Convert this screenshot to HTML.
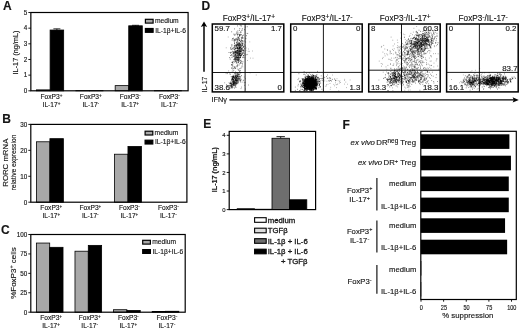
<!DOCTYPE html>
<html><head><meta charset="utf-8"><title>Figure</title>
<style>
html,body{margin:0;padding:0;background:#fff;}
svg{display:block;font-family:"Liberation Sans", sans-serif;fill:#151515;}
text{stroke:#151515;stroke-width:0.14px;}
</style></head><body>
<svg width="520" height="330" viewBox="0 0 520 330">
<rect x="0" y="0" width="520" height="330" fill="#fff"/>
<text x="2.9" y="10" font-size="12" text-anchor="start" font-weight="bold" font-style="normal">A</text>
<rect x="36.54" y="89.86" width="13.56" height="0.94" fill="#a8a8a8" stroke="#000" stroke-width="0.8"/>
<rect x="50.11" y="30.04" width="13.56" height="60.76" fill="#000" stroke="#000" stroke-width="0.8"/>
<line x1="56.89" y1="30.04" x2="56.89" y2="28.84" stroke="#000" stroke-width="0.8"/>
<line x1="53.39" y1="28.84" x2="60.39" y2="28.84" stroke="#000" stroke-width="0.8"/>
<rect x="75.86" y="90.64" width="13.56" height="0.16" fill="#a8a8a8" stroke="#000" stroke-width="0.8"/>
<rect x="89.42" y="90.64" width="13.56" height="0.16" fill="#000" stroke="#000" stroke-width="0.8"/>
<rect x="115.17" y="85.63" width="13.56" height="5.17" fill="#a8a8a8" stroke="#000" stroke-width="0.8"/>
<rect x="128.73" y="25.81" width="13.56" height="64.99" fill="#000" stroke="#000" stroke-width="0.8"/>
<line x1="135.51" y1="25.81" x2="135.51" y2="25.31" stroke="#000" stroke-width="0.8"/>
<line x1="132.01" y1="25.31" x2="139.01" y2="25.31" stroke="#000" stroke-width="0.8"/>
<rect x="154.48" y="90.64" width="13.56" height="0.16" fill="#a8a8a8" stroke="#000" stroke-width="0.8"/>
<rect x="168.04" y="90.64" width="13.56" height="0.16" fill="#000" stroke="#000" stroke-width="0.8"/>
<rect x="30.85" y="12.50" width="157.25" height="78.30" fill="none" stroke="#000" stroke-width="1.2"/>
<line x1="28.35" y1="90.80" x2="30.85" y2="90.80" stroke="#000" stroke-width="0.9"/>
<text x="27.35" y="93.1" font-size="6.3" text-anchor="end" font-weight="normal" font-style="normal">0</text>
<line x1="28.35" y1="75.14" x2="30.85" y2="75.14" stroke="#000" stroke-width="0.9"/>
<text x="27.35" y="77.44" font-size="6.3" text-anchor="end" font-weight="normal" font-style="normal">1</text>
<line x1="28.35" y1="59.48" x2="30.85" y2="59.48" stroke="#000" stroke-width="0.9"/>
<text x="27.35" y="61.779999999999994" font-size="6.3" text-anchor="end" font-weight="normal" font-style="normal">2</text>
<line x1="28.35" y1="43.82" x2="30.85" y2="43.82" stroke="#000" stroke-width="0.9"/>
<text x="27.35" y="46.12" font-size="6.3" text-anchor="end" font-weight="normal" font-style="normal">3</text>
<line x1="28.35" y1="28.16" x2="30.85" y2="28.16" stroke="#000" stroke-width="0.9"/>
<text x="27.35" y="30.459999999999997" font-size="6.3" text-anchor="end" font-weight="normal" font-style="normal">4</text>
<line x1="28.35" y1="12.50" x2="30.85" y2="12.50" stroke="#000" stroke-width="0.9"/>
<text x="27.35" y="14.8" font-size="6.3" text-anchor="end" font-weight="normal" font-style="normal">5</text>
<text x="51.50625" y="98.89999999999999" font-size="6.65" text-anchor="middle" font-weight="normal" font-style="normal">FoxP3<tspan dy="-2.2" font-size="4.6">+</tspan><tspan dy="2.2" font-size="1">&#8203;</tspan></text>
<text x="51.50625" y="107.0" font-size="6.65" text-anchor="middle" font-weight="normal" font-style="normal">IL-17<tspan dy="-2.2" font-size="4.6">+</tspan><tspan dy="2.2" font-size="1">&#8203;</tspan></text>
<text x="90.81875" y="98.89999999999999" font-size="6.65" text-anchor="middle" font-weight="normal" font-style="normal">FoxP3<tspan dy="-2.2" font-size="4.6">+</tspan><tspan dy="2.2" font-size="1">&#8203;</tspan></text>
<text x="90.81875" y="107.0" font-size="6.65" text-anchor="middle" font-weight="normal" font-style="normal">IL-17<tspan dy="-2.2" font-size="4.83">-</tspan><tspan dy="2.2" font-size="1">&#8203;</tspan></text>
<text x="130.13125" y="98.89999999999999" font-size="6.65" text-anchor="middle" font-weight="normal" font-style="normal">FoxP3<tspan dy="-2.2" font-size="4.83">-</tspan><tspan dy="2.2" font-size="1">&#8203;</tspan></text>
<text x="130.13125" y="107.0" font-size="6.65" text-anchor="middle" font-weight="normal" font-style="normal">IL-17<tspan dy="-2.2" font-size="4.6">+</tspan><tspan dy="2.2" font-size="1">&#8203;</tspan></text>
<text x="169.44375" y="98.89999999999999" font-size="6.65" text-anchor="middle" font-weight="normal" font-style="normal">FoxP3<tspan dy="-2.2" font-size="4.83">-</tspan><tspan dy="2.2" font-size="1">&#8203;</tspan></text>
<text x="169.44375" y="107.0" font-size="6.65" text-anchor="middle" font-weight="normal" font-style="normal">IL-17<tspan dy="-2.2" font-size="4.83">-</tspan><tspan dy="2.2" font-size="1">&#8203;</tspan></text>
<rect x="145.40" y="19.30" width="7.70" height="3.80" fill="#a8a8a8" stroke="#000" stroke-width="1.2"/>
<rect x="145.40" y="28.50" width="7.70" height="3.80" fill="#000" stroke="#000" stroke-width="1.2"/>
<text x="154.9" y="23.3" font-size="6.7" text-anchor="start" font-weight="normal" font-style="normal">medium</text>
<text x="155.20000000000002" y="32.7" font-size="6.7" text-anchor="start" font-weight="normal" font-style="normal">IL-1β+IL-6</text>
<text x="18" y="52.5" font-size="7.3" text-anchor="middle" font-weight="normal" font-style="normal" transform="rotate(-90 18 52.5)">IL-17 (ng/mL)</text>
<text x="2.3" y="123.1" font-size="12" text-anchor="start" font-weight="bold" font-style="normal">B</text>
<rect x="36.45" y="141.78" width="13.46" height="60.42" fill="#a8a8a8" stroke="#000" stroke-width="0.8"/>
<rect x="49.91" y="138.66" width="13.46" height="63.54" fill="#000" stroke="#000" stroke-width="0.8"/>
<rect x="114.50" y="154.22" width="13.46" height="47.98" fill="#a8a8a8" stroke="#000" stroke-width="0.8"/>
<rect x="127.96" y="146.44" width="13.46" height="55.76" fill="#000" stroke="#000" stroke-width="0.8"/>
<rect x="30.80" y="124.40" width="156.10" height="77.80" fill="none" stroke="#000" stroke-width="1.2"/>
<line x1="28.30" y1="202.20" x2="30.80" y2="202.20" stroke="#000" stroke-width="0.9"/>
<text x="27.3" y="204.5" font-size="6.3" text-anchor="end" font-weight="normal" font-style="normal">0</text>
<line x1="28.30" y1="176.27" x2="30.80" y2="176.27" stroke="#000" stroke-width="0.9"/>
<text x="27.3" y="178.56666666666666" font-size="6.3" text-anchor="end" font-weight="normal" font-style="normal">10</text>
<line x1="28.30" y1="150.33" x2="30.80" y2="150.33" stroke="#000" stroke-width="0.9"/>
<text x="27.3" y="152.63333333333335" font-size="6.3" text-anchor="end" font-weight="normal" font-style="normal">20</text>
<line x1="28.30" y1="124.40" x2="30.80" y2="124.40" stroke="#000" stroke-width="0.9"/>
<text x="27.3" y="126.7" font-size="6.3" text-anchor="end" font-weight="normal" font-style="normal">30</text>
<text x="51.3125" y="210.29999999999998" font-size="6.65" text-anchor="middle" font-weight="normal" font-style="normal">FoxP3<tspan dy="-2.2" font-size="4.6">+</tspan><tspan dy="2.2" font-size="1">&#8203;</tspan></text>
<text x="51.3125" y="218.39999999999998" font-size="6.65" text-anchor="middle" font-weight="normal" font-style="normal">IL-17<tspan dy="-2.2" font-size="4.6">+</tspan><tspan dy="2.2" font-size="1">&#8203;</tspan></text>
<text x="90.33749999999999" y="210.29999999999998" font-size="6.65" text-anchor="middle" font-weight="normal" font-style="normal">FoxP3<tspan dy="-2.2" font-size="4.6">+</tspan><tspan dy="2.2" font-size="1">&#8203;</tspan></text>
<text x="90.33749999999999" y="218.39999999999998" font-size="6.65" text-anchor="middle" font-weight="normal" font-style="normal">IL-17<tspan dy="-2.2" font-size="4.83">-</tspan><tspan dy="2.2" font-size="1">&#8203;</tspan></text>
<text x="129.3625" y="210.29999999999998" font-size="6.65" text-anchor="middle" font-weight="normal" font-style="normal">FoxP3<tspan dy="-2.2" font-size="4.83">-</tspan><tspan dy="2.2" font-size="1">&#8203;</tspan></text>
<text x="129.3625" y="218.39999999999998" font-size="6.65" text-anchor="middle" font-weight="normal" font-style="normal">IL-17<tspan dy="-2.2" font-size="4.6">+</tspan><tspan dy="2.2" font-size="1">&#8203;</tspan></text>
<text x="168.38750000000002" y="210.29999999999998" font-size="6.65" text-anchor="middle" font-weight="normal" font-style="normal">FoxP3<tspan dy="-2.2" font-size="4.83">-</tspan><tspan dy="2.2" font-size="1">&#8203;</tspan></text>
<text x="168.38750000000002" y="218.39999999999998" font-size="6.65" text-anchor="middle" font-weight="normal" font-style="normal">IL-17<tspan dy="-2.2" font-size="4.83">-</tspan><tspan dy="2.2" font-size="1">&#8203;</tspan></text>
<rect x="145.10" y="131.20" width="7.70" height="3.80" fill="#a8a8a8" stroke="#000" stroke-width="1.2"/>
<rect x="145.10" y="140.20" width="7.70" height="3.80" fill="#000" stroke="#000" stroke-width="1.2"/>
<text x="154.6" y="135.2" font-size="6.7" text-anchor="start" font-weight="normal" font-style="normal">medium</text>
<text x="154.9" y="144.39999999999998" font-size="6.7" text-anchor="start" font-weight="normal" font-style="normal">IL-1β+IL-6</text>
<text x="8.5" y="162.7" font-size="7.8" text-anchor="middle" font-weight="normal" font-style="normal" transform="rotate(-90 8.5 162.7)">RORC mRNA</text>
<text x="16.4" y="162.5" font-size="6.7" text-anchor="middle" font-weight="normal" font-style="normal" transform="rotate(-90 16.4 162.5)">relative expression</text>
<text x="1.0" y="234.4" font-size="12" text-anchor="start" font-weight="bold" font-style="normal">C</text>
<rect x="36.38" y="243.05" width="13.32" height="69.15" fill="#a8a8a8" stroke="#000" stroke-width="0.8"/>
<rect x="49.70" y="247.32" width="13.32" height="64.88" fill="#000" stroke="#000" stroke-width="0.8"/>
<rect x="74.98" y="251.21" width="13.32" height="60.99" fill="#a8a8a8" stroke="#000" stroke-width="0.8"/>
<rect x="88.30" y="245.38" width="13.32" height="66.82" fill="#000" stroke="#000" stroke-width="0.8"/>
<rect x="113.58" y="309.71" width="13.32" height="2.49" fill="#a8a8a8" stroke="#000" stroke-width="0.8"/>
<rect x="126.90" y="310.49" width="13.32" height="1.71" fill="#000" stroke="#000" stroke-width="0.8"/>
<rect x="152.18" y="311.58" width="13.32" height="0.62" fill="#a8a8a8" stroke="#000" stroke-width="0.8"/>
<rect x="165.50" y="311.27" width="13.32" height="0.93" fill="#000" stroke="#000" stroke-width="0.8"/>
<rect x="30.80" y="234.50" width="154.40" height="77.70" fill="none" stroke="#000" stroke-width="1.2"/>
<line x1="28.30" y1="312.20" x2="30.80" y2="312.20" stroke="#000" stroke-width="0.9"/>
<text x="27.3" y="314.5" font-size="6.3" text-anchor="end" font-weight="normal" font-style="normal">0</text>
<line x1="28.30" y1="292.77" x2="30.80" y2="292.77" stroke="#000" stroke-width="0.9"/>
<text x="27.3" y="295.075" font-size="6.3" text-anchor="end" font-weight="normal" font-style="normal">25</text>
<line x1="28.30" y1="273.35" x2="30.80" y2="273.35" stroke="#000" stroke-width="0.9"/>
<text x="27.3" y="275.65000000000003" font-size="6.3" text-anchor="end" font-weight="normal" font-style="normal">50</text>
<line x1="28.30" y1="253.93" x2="30.80" y2="253.93" stroke="#000" stroke-width="0.9"/>
<text x="27.3" y="256.225" font-size="6.3" text-anchor="end" font-weight="normal" font-style="normal">75</text>
<line x1="28.30" y1="234.50" x2="30.80" y2="234.50" stroke="#000" stroke-width="0.9"/>
<text x="27.3" y="236.8" font-size="6.3" text-anchor="end" font-weight="normal" font-style="normal">100</text>
<text x="51.099999999999994" y="320.3" font-size="6.65" text-anchor="middle" font-weight="normal" font-style="normal">FoxP3<tspan dy="-2.2" font-size="4.6">+</tspan><tspan dy="2.2" font-size="1">&#8203;</tspan></text>
<text x="51.099999999999994" y="328.4" font-size="6.65" text-anchor="middle" font-weight="normal" font-style="normal">IL-17<tspan dy="-2.2" font-size="4.6">+</tspan><tspan dy="2.2" font-size="1">&#8203;</tspan></text>
<text x="89.69999999999999" y="320.3" font-size="6.65" text-anchor="middle" font-weight="normal" font-style="normal">FoxP3<tspan dy="-2.2" font-size="4.6">+</tspan><tspan dy="2.2" font-size="1">&#8203;</tspan></text>
<text x="89.69999999999999" y="328.4" font-size="6.65" text-anchor="middle" font-weight="normal" font-style="normal">IL-17<tspan dy="-2.2" font-size="4.83">-</tspan><tspan dy="2.2" font-size="1">&#8203;</tspan></text>
<text x="128.29999999999998" y="320.3" font-size="6.65" text-anchor="middle" font-weight="normal" font-style="normal">FoxP3<tspan dy="-2.2" font-size="4.83">-</tspan><tspan dy="2.2" font-size="1">&#8203;</tspan></text>
<text x="128.29999999999998" y="328.4" font-size="6.65" text-anchor="middle" font-weight="normal" font-style="normal">IL-17<tspan dy="-2.2" font-size="4.6">+</tspan><tspan dy="2.2" font-size="1">&#8203;</tspan></text>
<text x="166.89999999999998" y="320.3" font-size="6.65" text-anchor="middle" font-weight="normal" font-style="normal">FoxP3<tspan dy="-2.2" font-size="4.83">-</tspan><tspan dy="2.2" font-size="1">&#8203;</tspan></text>
<text x="166.89999999999998" y="328.4" font-size="6.65" text-anchor="middle" font-weight="normal" font-style="normal">IL-17<tspan dy="-2.2" font-size="4.83">-</tspan><tspan dy="2.2" font-size="1">&#8203;</tspan></text>
<rect x="142.70" y="240.30" width="7.70" height="3.80" fill="#a8a8a8" stroke="#000" stroke-width="1.2"/>
<rect x="142.70" y="249.60" width="7.70" height="3.80" fill="#000" stroke="#000" stroke-width="1.2"/>
<text x="152.2" y="244.3" font-size="6.7" text-anchor="start" font-weight="normal" font-style="normal">medium</text>
<text x="152.5" y="253.79999999999998" font-size="6.7" text-anchor="start" font-weight="normal" font-style="normal">IL-1β+IL-6</text>
<text x="15.8" y="273" font-size="8.0" text-anchor="middle" font-weight="normal" font-style="normal" transform="rotate(-90 15.8 273)">%FoxP3<tspan dy="-2.4" font-size="5.5">+</tspan><tspan dy="2.4" font-size="1">&#8203;</tspan> cells</text>
<text x="201.6" y="10.2" font-size="12" text-anchor="start" font-weight="bold" font-style="normal">D</text>
<path d="M237.2 55.8h.01M237.3 48.1h.01M234.9 50.7h.01M241.7 51.8h.01M241.4 50.3h.01M239.3 51.3h.01M232.5 62.3h.01M239.7 53.9h.01M232.4 38.5h.01M235.1 48.3h.01M239.0 49.4h.01M239.7 43.4h.01M239.0 53.4h.01M235.8 67.9h.01M239.8 60.2h.01M236.0 45.2h.01M236.9 50.3h.01M240.1 51.3h.01M236.5 42.8h.01M236.3 63.0h.01M235.3 54.7h.01M239.4 35.8h.01M238.2 62.4h.01M231.4 52.3h.01M237.6 43.2h.01M239.6 48.7h.01M233.2 61.6h.01M240.2 57.6h.01M242.8 50.4h.01M238.4 38.3h.01M240.0 43.4h.01M236.5 39.9h.01M234.8 47.9h.01M242.3 28.7h.01M233.2 56.2h.01M242.8 52.4h.01M231.7 31.8h.01M239.2 42.9h.01M234.3 62.1h.01M241.6 49.3h.01M238.8 53.9h.01M243.3 52.4h.01M239.7 54.3h.01M232.8 66.0h.01M241.2 53.1h.01M231.5 49.4h.01M240.8 31.8h.01M237.4 60.3h.01M233.7 68.4h.01M239.8 47.8h.01M239.1 55.7h.01M238.4 60.8h.01M235.8 48.3h.01M241.4 48.3h.01M235.1 61.3h.01M242.8 42.9h.01M233.4 52.5h.01M237.5 48.1h.01M242.6 37.7h.01M242.2 35.8h.01M235.4 58.2h.01M241.7 55.7h.01M239.1 51.0h.01M238.5 55.4h.01M237.4 53.5h.01M239.9 49.1h.01M240.5 53.9h.01M244.6 48.7h.01M236.6 48.1h.01M238.0 59.0h.01M236.9 54.8h.01M234.3 55.4h.01M239.3 51.7h.01M236.6 57.6h.01M238.9 45.0h.01M246.0 48.0h.01M236.2 50.9h.01M237.3 50.5h.01M229.0 52.5h.01M241.3 37.4h.01M237.8 59.4h.01M240.8 62.2h.01M232.4 51.3h.01M236.9 57.0h.01M241.6 34.6h.01M240.3 35.2h.01M238.6 61.1h.01M237.5 52.6h.01M240.6 49.9h.01M237.7 64.8h.01M241.5 45.3h.01M247.1 33.4h.01M241.0 45.9h.01M238.4 56.7h.01M238.7 55.8h.01M233.0 40.2h.01M240.0 40.2h.01M234.6 39.4h.01M242.2 54.4h.01M242.9 38.4h.01M238.0 40.0h.01M240.5 63.3h.01M235.1 67.0h.01M241.3 46.5h.01M231.5 68.1h.01M237.7 45.2h.01M239.3 53.3h.01M242.9 37.6h.01M241.7 61.5h.01M242.8 45.4h.01M235.5 61.6h.01M238.4 51.4h.01M242.7 44.7h.01M230.4 52.4h.01M231.9 62.4h.01M239.0 44.1h.01M238.0 58.2h.01M238.3 62.5h.01M237.8 60.2h.01M242.9 61.8h.01M235.8 60.2h.01M231.8 45.0h.01M231.5 65.0h.01M233.9 53.3h.01M237.4 50.7h.01M236.0 54.1h.01M243.9 46.7h.01M239.8 58.4h.01M237.3 39.4h.01M236.2 61.7h.01M232.6 48.9h.01M241.3 55.4h.01M238.0 57.9h.01M238.5 39.3h.01M232.8 48.3h.01M241.0 43.1h.01M235.0 45.6h.01M232.9 53.1h.01M234.1 56.7h.01M230.2 59.1h.01M235.9 34.2h.01M240.4 46.2h.01M230.6 47.7h.01M239.0 45.6h.01M240.6 55.5h.01M240.2 51.9h.01M242.4 53.4h.01M239.5 30.3h.01M241.0 60.4h.01M237.0 46.9h.01M244.4 29.7h.01M239.5 71.7h.01M234.9 59.0h.01M244.2 44.9h.01M239.9 57.5h.01M235.0 51.8h.01M239.0 57.4h.01M237.9 48.8h.01M234.6 49.6h.01M240.9 49.3h.01M235.2 44.8h.01M246.8 54.7h.01M240.1 25.1h.01M240.1 53.4h.01M243.6 50.4h.01M237.8 55.5h.01M231.6 64.6h.01M239.1 43.3h.01M242.4 64.0h.01M233.4 47.7h.01M239.0 51.5h.01M236.7 42.5h.01M245.0 55.0h.01M234.1 41.0h.01M243.6 55.6h.01M244.0 53.6h.01M235.1 55.0h.01M230.9 48.7h.01M237.8 55.4h.01M235.6 51.1h.01M239.5 52.9h.01M240.1 50.9h.01M236.9 58.5h.01M238.2 42.8h.01M235.9 52.0h.01M237.6 52.2h.01M238.0 52.1h.01M237.6 39.2h.01M239.4 59.2h.01M239.4 47.7h.01M239.5 40.6h.01M231.7 55.6h.01M234.9 59.5h.01M234.4 28.9h.01M234.6 67.5h.01M236.7 38.8h.01M235.5 57.1h.01M239.6 50.9h.01M242.9 53.5h.01M237.9 56.0h.01M243.5 55.5h.01M241.4 38.1h.01M237.5 57.6h.01M237.0 61.0h.01M240.0 57.4h.01M237.3 74.4h.01M242.1 45.6h.01M238.3 74.2h.01M236.9 59.4h.01M241.2 48.2h.01M234.1 55.0h.01M239.2 60.0h.01M240.6 48.9h.01M240.8 53.4h.01M238.7 50.5h.01M237.2 57.4h.01M234.5 47.2h.01M238.0 37.0h.01M236.6 33.1h.01M235.7 57.4h.01M239.9 48.7h.01M237.2 38.0h.01M244.0 50.9h.01M241.6 39.8h.01M237.4 34.2h.01M240.6 57.2h.01M231.7 54.5h.01M240.1 32.8h.01M232.0 45.0h.01M235.9 39.1h.01M238.1 52.7h.01M240.1 55.5h.01M243.0 57.6h.01M233.7 49.0h.01M234.5 43.1h.01M237.7 50.7h.01M239.6 34.7h.01M233.9 53.2h.01M237.3 48.1h.01M237.8 43.7h.01M240.3 52.1h.01M237.7 44.5h.01M237.4 25.9h.01M234.8 53.2h.01M233.0 55.9h.01M238.5 37.5h.01M237.2 48.2h.01M239.5 55.0h.01M237.9 42.8h.01M237.5 50.2h.01M240.4 51.5h.01M235.6 39.8h.01M236.8 44.6h.01M234.3 52.1h.01M236.4 52.6h.01M239.7 45.5h.01M245.7 42.0h.01M241.6 49.0h.01M241.7 26.0h.01M235.5 54.6h.01M240.0 70.6h.01M239.1 61.5h.01M240.5 57.4h.01M239.7 47.9h.01M239.7 39.4h.01M241.9 38.3h.01M238.8 69.4h.01M237.3 51.2h.01M241.8 48.0h.01M235.3 54.8h.01M239.9 55.6h.01M235.5 68.5h.01M243.5 46.7h.01M238.9 45.9h.01M242.7 40.7h.01M240.2 44.5h.01M235.7 58.8h.01M242.4 47.2h.01M235.8 59.6h.01M237.8 53.5h.01M243.0 57.3h.01M236.3 72.7h.01M238.0 57.7h.01M235.9 51.6h.01M232.2 71.1h.01M242.5 36.1h.01M233.0 39.2h.01M241.9 43.5h.01M237.8 47.8h.01M237.6 40.8h.01M238.1 37.2h.01M237.8 53.5h.01M239.5 47.3h.01M235.0 54.1h.01M236.4 66.1h.01M240.5 47.6h.01M236.4 45.2h.01M234.9 49.5h.01M239.0 54.5h.01M239.9 68.5h.01M235.7 52.3h.01M247.2 26.7h.01M236.3 53.3h.01M238.5 53.9h.01M237.2 54.4h.01M238.2 57.5h.01M231.8 46.9h.01M238.0 41.0h.01M234.6 58.8h.01M235.9 57.9h.01M240.5 51.5h.01M239.7 48.3h.01M233.3 53.6h.01M239.5 44.6h.01M237.7 57.6h.01M235.1 58.5h.01M244.1 41.0h.01M238.5 48.8h.01M243.1 49.8h.01M241.0 42.0h.01M237.9 50.4h.01M232.1 68.0h.01M241.0 32.3h.01M240.5 47.5h.01M239.5 52.8h.01M233.1 52.1h.01M242.9 41.7h.01M234.6 40.4h.01M234.0 56.5h.01M243.6 50.4h.01M238.8 70.5h.01M236.3 45.5h.01M239.7 54.3h.01M234.7 42.1h.01M239.0 52.1h.01M233.7 51.7h.01M236.2 56.0h.01M237.6 50.0h.01M236.8 61.0h.01M242.6 43.8h.01M240.8 41.5h.01M238.2 57.2h.01M243.0 43.4h.01M237.8 52.5h.01M233.1 54.2h.01M235.8 55.5h.01M234.3 35.0h.01M238.1 52.8h.01M236.2 60.0h.01M237.1 45.6h.01M239.6 34.9h.01M235.8 51.9h.01M240.8 47.0h.01M239.0 43.7h.01M239.0 65.1h.01M235.7 73.9h.01M235.9 52.2h.01M238.6 59.5h.01M233.9 34.1h.01M240.0 56.4h.01M240.1 73.2h.01M238.7 52.3h.01M241.1 51.7h.01M243.5 35.2h.01M240.7 45.1h.01M241.0 68.1h.01M238.0 48.2h.01M236.4 44.0h.01M235.9 57.9h.01M238.1 51.0h.01M237.4 59.3h.01M239.6 48.0h.01M240.2 47.5h.01M234.2 66.6h.01M239.5 40.6h.01M241.6 51.1h.01M232.8 69.0h.01M239.1 57.9h.01M238.7 48.7h.01M232.9 63.1h.01M238.1 47.8h.01M239.2 50.4h.01M240.2 45.5h.01M237.9 30.9h.01M236.6 57.7h.01M242.4 44.0h.01M237.6 65.4h.01M236.9 58.0h.01M243.5 46.9h.01M242.0 41.1h.01M238.7 49.3h.01M238.4 60.6h.01M245.9 38.7h.01M236.1 56.4h.01M234.5 57.6h.01M239.9 46.6h.01M239.8 35.0h.01M240.5 34.5h.01M235.7 47.0h.01M236.7 59.4h.01M238.3 46.7h.01M239.8 63.8h.01M238.0 53.9h.01M242.1 50.0h.01M233.8 76.5h.01M245.3 27.0h.01M237.9 54.4h.01M241.2 54.4h.01M237.1 41.5h.01M238.3 59.8h.01M234.4 43.6h.01M237.9 32.7h.01M237.1 47.1h.01M239.5 43.0h.01M235.1 49.0h.01M237.8 44.5h.01M238.0 57.4h.01M241.9 63.4h.01M235.4 48.5h.01M229.8 73.9h.01M235.6 51.9h.01M239.7 36.8h.01M239.5 49.2h.01M232.0 57.5h.01M241.9 30.5h.01M240.7 50.5h.01M239.6 53.4h.01M242.3 45.3h.01M240.9 44.7h.01M240.4 41.3h.01M237.6 66.7h.01M239.5 48.0h.01M234.2 46.0h.01M238.6 58.7h.01M239.4 54.3h.01M237.9 63.0h.01M236.7 46.4h.01M240.9 49.0h.01M237.1 45.9h.01M237.2 56.8h.01M239.2 38.5h.01M239.4 51.1h.01M234.7 60.0h.01M237.1 48.1h.01M240.6 60.8h.01M235.7 56.2h.01M235.1 73.9h.01M236.4 62.7h.01M235.9 59.5h.01M236.6 56.1h.01M237.7 44.6h.01M245.1 46.1h.01M232.6 62.3h.01M232.3 65.2h.01M236.1 53.2h.01M242.2 48.6h.01M233.4 38.2h.01M241.9 54.5h.01M235.3 60.3h.01M239.6 55.3h.01M230.5 53.1h.01M241.0 55.1h.01M240.9 25.8h.01M238.6 54.6h.01M246.4 35.7h.01M236.9 51.6h.01M240.9 44.3h.01M241.8 40.5h.01M238.9 45.0h.01M238.5 43.8h.01M232.7 64.3h.01M239.0 44.6h.01M238.7 59.1h.01M234.8 51.8h.01M239.8 54.1h.01M236.9 31.9h.01M242.1 50.6h.01M238.0 47.9h.01M238.9 46.0h.01M234.6 46.1h.01M236.0 46.3h.01M234.2 59.1h.01M233.7 59.7h.01M234.7 56.2h.01M242.5 49.1h.01M235.6 52.7h.01M238.5 34.2h.01M236.0 53.4h.01M236.5 52.3h.01M240.4 55.8h.01M241.0 53.8h.01M237.0 51.0h.01M237.1 48.3h.01M237.4 35.1h.01M236.9 51.1h.01M234.8 52.6h.01M239.7 47.8h.01M237.3 34.2h.01M241.2 72.6h.01M229.7 57.6h.01M239.7 46.5h.01M239.8 28.6h.01M240.8 51.9h.01M238.1 45.0h.01M240.1 44.5h.01M238.7 45.3h.01M230.6 55.5h.01M238.7 57.0h.01M235.1 52.3h.01M240.0 50.4h.01M242.1 65.9h.01M235.0 35.0h.01M240.8 62.5h.01M241.0 55.8h.01M236.0 45.4h.01" stroke="#000" stroke-opacity="0.68" stroke-width="0.84" stroke-linecap="round" fill="none"/>
<path d="M245.8 38.1h.01M228.2 37.0h.01M256.2 75.0h.01M235.5 40.5h.01M241.5 40.3h.01M248.5 49.0h.01M232.9 67.0h.01M236.2 52.9h.01M239.9 45.9h.01M242.1 41.0h.01M231.8 40.1h.01M239.9 50.7h.01M243.6 51.6h.01M234.8 40.8h.01M226.2 47.8h.01M243.2 56.9h.01M239.2 47.7h.01M246.1 50.2h.01M244.8 57.6h.01M241.4 67.0h.01M236.3 45.3h.01M234.7 39.6h.01M250.1 72.9h.01M240.1 57.4h.01M247.6 60.5h.01M247.8 33.6h.01M235.8 55.9h.01M249.3 51.4h.01M234.4 45.4h.01M235.7 38.8h.01M249.8 41.9h.01M240.1 78.1h.01M247.7 54.4h.01M236.0 55.3h.01M250.5 58.1h.01M248.2 51.3h.01M243.4 47.4h.01M242.8 66.9h.01M230.7 49.2h.01M241.6 42.6h.01M238.0 60.2h.01M253.0 58.2h.01M242.1 29.8h.01M252.5 51.0h.01M239.8 35.5h.01M239.6 35.8h.01M240.5 56.1h.01M240.2 53.6h.01M234.5 68.6h.01" stroke="#000" stroke-opacity="0.4" stroke-width="0.84" stroke-linecap="round" fill="none"/>
<path d="M233.2 76.7h.01M234.5 78.8h.01M232.3 81.8h.01M235.8 76.5h.01M234.6 85.1h.01M236.8 78.6h.01M235.3 80.0h.01M234.9 82.9h.01M234.8 73.7h.01M234.9 78.0h.01M236.8 77.3h.01M235.4 86.7h.01M232.2 79.6h.01M231.2 76.6h.01M229.9 85.8h.01M233.3 76.5h.01M231.0 85.7h.01M232.9 81.2h.01M235.9 83.9h.01M240.2 79.3h.01M235.4 80.8h.01M239.9 80.8h.01M234.2 82.6h.01M235.8 80.1h.01M233.6 77.8h.01M233.6 77.2h.01M238.3 79.5h.01M231.7 87.4h.01M237.4 73.0h.01M240.0 78.9h.01M240.6 72.4h.01M236.4 80.7h.01M235.5 80.7h.01M237.8 73.8h.01M231.6 79.2h.01M233.5 80.0h.01M236.0 80.6h.01M235.1 78.5h.01M233.8 84.4h.01M237.1 79.2h.01M234.1 85.9h.01M233.4 83.8h.01M238.1 77.3h.01M237.2 75.5h.01M237.7 78.9h.01M230.7 86.1h.01M232.6 86.4h.01M233.2 81.6h.01M235.8 79.0h.01M235.7 78.4h.01M236.8 79.1h.01M235.6 72.0h.01M238.1 78.1h.01M230.2 84.8h.01M236.3 82.7h.01M232.1 87.6h.01M234.6 88.0h.01M234.6 82.9h.01M234.0 78.1h.01M238.0 80.8h.01M239.2 79.7h.01M233.5 77.0h.01M233.2 80.0h.01M232.8 84.1h.01M235.9 79.1h.01M235.5 79.8h.01M235.6 82.4h.01M237.6 76.4h.01M230.9 88.2h.01M235.3 83.6h.01M230.6 83.3h.01M235.1 76.3h.01M233.6 83.9h.01M237.9 82.9h.01M232.7 78.4h.01M236.4 82.2h.01M235.5 76.3h.01M237.1 81.2h.01M236.5 77.9h.01M235.8 82.3h.01M233.5 76.4h.01M235.9 81.3h.01M235.0 83.2h.01M233.4 81.7h.01M234.2 83.0h.01M239.3 76.3h.01M240.5 80.6h.01M237.1 80.6h.01M239.8 76.1h.01M234.7 77.7h.01M236.3 83.5h.01M236.4 80.7h.01M234.5 81.5h.01M231.2 86.9h.01M233.9 78.2h.01M233.0 79.8h.01M237.3 81.8h.01M231.3 86.4h.01M237.4 76.9h.01M231.0 81.7h.01M233.3 83.0h.01M234.0 75.4h.01M235.6 75.5h.01M237.4 75.0h.01M233.1 79.6h.01M233.5 85.6h.01M237.3 80.5h.01M235.9 75.3h.01M233.6 80.1h.01M232.4 84.3h.01M233.0 80.1h.01M232.2 76.8h.01M236.6 83.2h.01M235.5 77.3h.01M227.7 87.1h.01M238.3 78.8h.01M237.5 82.9h.01M238.0 76.8h.01M237.8 80.6h.01M230.9 82.8h.01M231.2 83.4h.01M236.6 76.2h.01M229.4 89.0h.01M236.0 84.1h.01M231.4 86.7h.01M240.6 81.9h.01M234.4 81.9h.01M234.6 83.9h.01M237.8 78.6h.01M231.3 85.8h.01M233.7 83.5h.01M235.7 84.8h.01M238.1 76.7h.01M235.9 85.0h.01M233.5 83.1h.01M238.2 81.7h.01M236.4 75.5h.01M231.6 84.1h.01M236.0 87.3h.01M232.7 85.9h.01M237.1 73.9h.01M232.8 82.9h.01M233.7 81.2h.01M236.3 77.2h.01M236.3 77.7h.01M233.5 83.4h.01M233.5 82.7h.01M239.3 77.1h.01M234.6 83.1h.01M234.0 84.6h.01M231.5 85.3h.01M233.6 79.4h.01M239.8 74.2h.01M239.7 78.6h.01M238.9 74.5h.01M238.2 82.3h.01M234.7 80.5h.01M241.6 75.7h.01M233.9 79.7h.01M236.2 80.6h.01M235.5 85.3h.01M234.1 82.7h.01M238.9 74.4h.01M237.8 83.7h.01M231.3 80.4h.01M232.2 77.4h.01M236.2 74.1h.01M236.3 83.8h.01M230.6 83.2h.01M229.8 87.2h.01M233.0 81.5h.01M235.1 82.1h.01M234.1 81.4h.01M233.5 82.2h.01M231.8 83.4h.01M229.8 83.4h.01M240.2 76.6h.01M231.6 84.2h.01M232.4 77.9h.01M233.0 84.4h.01M236.0 79.5h.01M232.5 79.5h.01M238.6 78.3h.01M232.4 76.5h.01M231.9 82.9h.01M235.6 79.7h.01M234.2 77.2h.01M232.2 87.9h.01M233.0 84.8h.01M230.4 83.5h.01M235.7 83.1h.01M232.0 84.9h.01M236.0 77.6h.01M236.3 76.9h.01M232.9 82.3h.01M227.7 86.3h.01M232.3 78.5h.01M233.9 83.8h.01M233.9 85.2h.01M231.9 79.3h.01M239.2 78.3h.01M237.6 76.1h.01M237.2 79.6h.01M236.8 79.2h.01M238.3 76.0h.01M232.4 78.4h.01M238.1 75.8h.01M232.2 80.1h.01M233.8 77.8h.01" stroke="#000" stroke-opacity="0.75" stroke-width="0.84" stroke-linecap="round" fill="none"/>
<path d="M234.5 76.9h.01M233.2 75.2h.01M236.2 77.7h.01M236.6 81.2h.01M237.7 69.1h.01M233.3 76.0h.01M239.9 72.1h.01M232.4 78.5h.01M234.3 85.0h.01M233.8 84.8h.01M228.7 70.9h.01M242.1 82.2h.01M238.4 80.6h.01M238.4 73.9h.01M240.7 77.3h.01M240.9 80.4h.01M226.1 73.6h.01M241.6 79.3h.01M234.0 81.2h.01M233.9 77.3h.01M236.5 80.7h.01M243.6 80.2h.01M245.4 89.0h.01M244.6 85.3h.01M236.7 80.7h.01M235.3 76.3h.01M235.7 76.8h.01M244.2 82.7h.01M233.8 70.4h.01M235.7 77.9h.01M230.6 74.3h.01M224.7 82.8h.01M235.8 79.3h.01M243.2 80.7h.01M236.8 78.1h.01M233.0 87.5h.01M241.0 88.6h.01M234.3 80.2h.01M231.6 84.8h.01M229.0 82.8h.01M241.5 87.1h.01M231.3 85.4h.01M232.4 76.2h.01M229.4 85.8h.01M244.2 77.0h.01M232.2 78.3h.01M248.5 85.0h.01M233.3 71.0h.01M232.6 85.9h.01M245.3 78.7h.01M232.5 77.5h.01M226.6 84.5h.01M230.6 85.3h.01M227.5 73.6h.01M237.4 76.2h.01M239.9 80.0h.01M230.1 83.1h.01M240.2 70.4h.01M245.1 82.5h.01" stroke="#000" stroke-opacity="0.5" stroke-width="0.84" stroke-linecap="round" fill="none"/>
<rect x="212.30" y="24.00" width="71.50" height="67.90" fill="none" stroke="#000" stroke-width="1.5"/>
<line x1="245.10" y1="24.00" x2="245.10" y2="91.90" stroke="#000" stroke-width="0.9"/>
<line x1="212.30" y1="72.50" x2="283.80" y2="72.50" stroke="#000" stroke-width="0.9"/>
<text x="248.85000000000002" y="20.5" font-size="8.2" text-anchor="middle" font-weight="normal" font-style="normal">FoxP3<tspan dy="-1.7" font-size="6.6">+</tspan><tspan dy="1.7" font-size="1">&#8203;</tspan>/IL-17<tspan dy="-1.7" font-size="6.6">+</tspan><tspan dy="1.7" font-size="1">&#8203;</tspan></text>
<text x="214.5" y="30.7" font-size="7.9" text-anchor="start" font-weight="normal" font-style="normal">59.7</text>
<text x="282.0" y="30.7" font-size="7.9" text-anchor="end" font-weight="normal" font-style="normal">1.7</text>
<text x="214.5" y="90.1" font-size="7.9" text-anchor="start" font-weight="normal" font-style="normal">38.6</text>
<text x="282.0" y="90.1" font-size="7.9" text-anchor="end" font-weight="normal" font-style="normal">0</text>
<path d="M312.6 78.4h.01M308.1 82.6h.01M313.5 79.5h.01M307.6 77.9h.01M309.6 84.6h.01M305.2 81.9h.01M311.8 88.0h.01M312.3 82.7h.01M306.8 81.0h.01M308.3 84.0h.01M310.2 88.3h.01M311.2 80.6h.01M314.9 86.3h.01M310.6 81.6h.01M304.7 80.7h.01M313.0 81.4h.01M306.3 84.1h.01M311.0 85.3h.01M312.3 87.5h.01M307.8 86.3h.01M307.3 85.5h.01M310.8 84.3h.01M313.2 83.6h.01M313.6 86.1h.01M310.7 82.0h.01M308.0 82.1h.01M309.7 83.5h.01M319.2 85.4h.01M312.6 81.2h.01M308.2 82.7h.01M310.9 80.7h.01M315.1 82.0h.01M313.5 77.1h.01M310.3 84.4h.01M310.9 85.3h.01M311.1 84.1h.01M304.6 81.6h.01M303.3 85.4h.01M311.2 83.1h.01M307.8 82.0h.01M315.8 88.4h.01M310.1 87.2h.01M305.5 78.2h.01M308.9 81.2h.01M308.6 84.1h.01M319.4 81.7h.01M310.4 84.4h.01M310.2 86.2h.01M315.6 80.1h.01M310.8 82.9h.01M311.4 79.3h.01M305.0 77.1h.01M311.9 84.1h.01M310.5 77.0h.01M309.2 81.5h.01M306.1 81.0h.01M312.4 85.1h.01M310.2 85.0h.01M308.5 83.8h.01M310.4 85.2h.01M310.1 83.2h.01M309.9 81.8h.01M317.0 85.0h.01M311.6 90.0h.01M314.5 79.2h.01M312.4 85.9h.01M316.0 87.3h.01M312.6 80.3h.01M307.7 84.4h.01M311.8 80.7h.01M309.1 82.5h.01M310.5 84.5h.01M309.4 80.1h.01M314.0 88.1h.01M310.0 86.5h.01M311.6 85.4h.01M311.7 81.5h.01M312.0 86.4h.01M307.6 89.1h.01M316.6 88.7h.01M316.3 85.7h.01M309.3 81.9h.01M307.9 83.9h.01M310.2 85.5h.01M304.2 90.1h.01M317.1 83.5h.01M312.3 84.9h.01M311.1 83.0h.01M309.9 81.3h.01M310.8 83.5h.01M311.3 81.2h.01M310.4 83.7h.01M312.1 80.6h.01M311.6 86.4h.01M312.1 82.6h.01M308.8 82.9h.01M312.5 87.9h.01M309.8 81.8h.01M311.4 84.2h.01M307.6 81.5h.01M310.0 85.5h.01M306.7 80.7h.01M311.8 80.2h.01M310.6 84.6h.01M310.0 80.7h.01M310.1 82.7h.01M311.3 81.3h.01M313.6 78.9h.01M309.8 83.6h.01M313.2 81.9h.01M311.9 82.0h.01M312.5 88.5h.01M309.1 84.8h.01M307.5 86.3h.01M313.9 83.7h.01M306.9 84.7h.01M313.7 86.7h.01M312.7 78.5h.01M308.3 87.6h.01M306.6 86.8h.01M315.9 85.7h.01M313.7 82.7h.01M306.6 83.3h.01M309.7 83.5h.01M312.4 83.2h.01M310.9 84.8h.01M310.3 88.8h.01M311.6 83.8h.01M309.7 81.8h.01M314.3 84.0h.01M307.1 82.0h.01M309.9 82.4h.01M313.6 80.3h.01M311.8 84.0h.01M306.8 83.7h.01M310.0 85.0h.01M308.9 84.4h.01M305.3 80.6h.01M312.7 86.5h.01M310.3 81.9h.01M313.5 77.7h.01M307.9 85.5h.01M312.3 80.7h.01M304.6 87.7h.01M310.8 81.1h.01M310.5 86.1h.01M302.5 86.7h.01M312.5 77.8h.01M312.6 78.6h.01M313.7 84.7h.01M317.1 81.9h.01M310.3 86.5h.01M308.4 81.6h.01M309.2 83.4h.01M307.1 85.0h.01M311.9 83.8h.01M315.4 82.7h.01M314.2 82.1h.01M312.6 78.2h.01M310.9 83.1h.01M308.8 81.9h.01M309.3 81.6h.01M303.7 81.9h.01M308.7 82.1h.01M307.1 83.2h.01M312.7 82.9h.01M308.8 87.4h.01M313.2 86.2h.01M313.8 82.7h.01M309.9 86.7h.01M308.6 83.3h.01M311.4 84.6h.01M309.5 86.4h.01M309.8 85.6h.01M313.5 85.4h.01M312.5 80.4h.01M306.4 81.9h.01M311.7 87.8h.01M306.6 84.5h.01M307.7 81.5h.01M309.5 85.5h.01M310.9 86.9h.01M307.3 86.1h.01M313.1 83.8h.01M311.7 82.0h.01M307.0 82.5h.01M308.8 88.2h.01M310.9 84.5h.01M312.5 81.4h.01M313.0 84.7h.01M305.8 85.3h.01M312.0 84.9h.01M315.1 82.4h.01M311.8 85.7h.01M307.6 87.0h.01M305.9 80.0h.01M311.9 80.6h.01M310.0 79.0h.01M310.5 80.4h.01M311.3 79.3h.01M311.6 82.9h.01M310.5 83.4h.01M310.7 79.9h.01M302.6 83.7h.01M307.5 82.3h.01M311.6 78.0h.01M308.0 81.9h.01M307.1 84.5h.01M309.9 81.3h.01M307.3 85.9h.01M308.3 85.2h.01M311.6 78.3h.01M307.0 83.6h.01M311.3 85.8h.01M312.7 86.5h.01M309.2 83.0h.01M312.6 82.4h.01M313.5 79.2h.01M312.3 83.1h.01M304.4 86.3h.01M311.2 83.7h.01M307.1 82.3h.01M314.8 81.3h.01M299.9 81.2h.01M306.7 83.2h.01M309.1 81.0h.01M307.8 86.5h.01M306.0 89.1h.01M308.7 80.5h.01M312.7 85.2h.01M307.2 85.7h.01M304.8 81.0h.01M313.7 82.9h.01M306.4 85.0h.01M313.1 83.5h.01M304.9 82.6h.01M311.6 85.8h.01M315.9 82.9h.01M308.9 83.5h.01M313.9 81.0h.01M314.2 75.9h.01M312.7 81.7h.01M311.7 85.5h.01M306.8 83.4h.01M311.0 85.2h.01M307.5 80.8h.01M304.5 90.7h.01M309.7 83.0h.01M305.8 86.2h.01M308.7 87.6h.01M312.9 83.7h.01M312.5 80.5h.01M309.3 82.0h.01M306.5 83.6h.01M309.9 87.6h.01M300.2 81.7h.01M307.5 82.3h.01M311.6 84.7h.01M310.4 82.3h.01M311.8 84.6h.01M304.8 82.9h.01M306.2 80.3h.01M310.7 83.8h.01M310.6 81.1h.01M309.7 81.0h.01M311.4 85.5h.01M315.6 87.1h.01M307.9 82.3h.01M307.5 84.5h.01M316.2 85.6h.01M303.7 80.1h.01M306.4 85.0h.01M310.3 84.4h.01M315.6 81.3h.01M307.8 89.1h.01M311.3 81.4h.01M304.2 79.3h.01M303.0 83.8h.01M310.4 86.4h.01M309.9 81.7h.01M308.1 88.9h.01M305.0 84.1h.01M310.4 85.3h.01M309.1 85.0h.01M312.7 83.2h.01M308.9 83.1h.01M307.4 83.0h.01M309.4 84.2h.01M314.3 87.3h.01M309.0 85.3h.01M311.2 85.7h.01M310.4 84.3h.01M308.9 81.4h.01M312.9 87.2h.01M312.3 84.8h.01M311.1 82.3h.01M305.0 85.5h.01M310.9 82.0h.01M307.4 87.2h.01M304.9 88.5h.01M312.2 90.2h.01M308.1 83.5h.01M308.8 84.0h.01M309.7 81.5h.01M313.5 81.4h.01M308.8 85.2h.01M308.7 82.4h.01M311.4 82.6h.01M306.6 83.3h.01M309.6 88.4h.01M307.0 86.3h.01M307.9 82.6h.01M309.3 84.4h.01M312.9 88.5h.01M308.4 87.3h.01M313.3 85.9h.01M308.0 86.1h.01M310.0 84.6h.01M309.5 85.5h.01M313.6 86.8h.01M309.7 86.4h.01M314.7 81.0h.01M314.7 79.9h.01M311.9 85.3h.01M314.7 84.4h.01M308.9 81.4h.01M306.5 85.7h.01M309.6 81.6h.01M311.9 81.5h.01M309.0 82.3h.01M315.3 87.7h.01M309.8 79.2h.01M311.1 83.8h.01M311.3 85.2h.01M309.3 86.2h.01M312.8 84.2h.01M309.1 82.3h.01M312.4 80.5h.01M309.8 81.5h.01M306.1 85.3h.01M310.2 83.7h.01M312.9 79.4h.01M310.1 84.4h.01M312.8 80.6h.01M312.4 84.2h.01M314.4 86.8h.01M311.9 89.6h.01M310.3 82.4h.01M309.3 81.0h.01M310.2 78.3h.01M310.0 84.8h.01M313.3 82.6h.01M314.5 81.8h.01M309.9 78.3h.01M308.0 81.4h.01M314.7 85.1h.01M307.1 85.1h.01M311.7 83.0h.01M310.4 82.8h.01M308.7 78.8h.01M310.0 87.1h.01M314.5 82.8h.01M308.1 83.0h.01M312.9 84.6h.01M308.6 84.6h.01M309.7 85.0h.01M309.1 79.6h.01M310.5 85.7h.01M307.1 83.3h.01M312.9 82.6h.01M308.4 89.1h.01M312.7 86.4h.01M307.5 88.1h.01M305.5 82.2h.01M312.5 87.2h.01M307.6 81.8h.01M310.9 78.3h.01M312.2 85.1h.01M309.0 85.1h.01M312.6 84.4h.01M311.8 87.7h.01M308.9 84.0h.01M308.8 86.4h.01M309.1 84.9h.01M310.7 83.8h.01M315.3 83.4h.01M314.4 85.8h.01M314.1 83.2h.01M313.0 85.6h.01M308.5 84.3h.01M309.9 83.5h.01M314.1 81.7h.01M305.4 78.9h.01M309.0 81.9h.01M310.3 85.1h.01M315.4 84.4h.01M311.6 81.6h.01M312.0 87.3h.01M314.2 78.3h.01M312.9 87.9h.01M312.7 79.6h.01M309.4 85.2h.01M311.5 81.4h.01M307.7 86.2h.01M306.4 87.5h.01M310.4 84.4h.01M306.4 82.0h.01M312.3 79.6h.01M316.3 79.8h.01M306.8 83.7h.01M311.7 85.6h.01M309.2 83.0h.01M309.6 82.1h.01M302.9 86.2h.01M311.0 84.0h.01M308.5 84.3h.01M310.3 83.4h.01M313.5 79.0h.01M311.0 80.7h.01M309.4 87.6h.01M307.2 83.3h.01M308.6 86.2h.01M307.5 79.1h.01M311.8 82.6h.01M309.4 86.5h.01M307.7 82.6h.01M310.7 84.7h.01M308.8 86.4h.01M316.8 82.5h.01M315.7 77.9h.01M314.4 82.7h.01M310.7 82.7h.01M308.5 80.2h.01M309.2 87.1h.01M313.6 82.7h.01M308.8 81.7h.01M306.8 88.4h.01M312.2 83.9h.01M308.9 80.9h.01M314.1 85.7h.01M307.6 86.3h.01M307.1 85.3h.01M307.5 82.5h.01M311.7 84.8h.01M313.2 81.4h.01M314.8 87.2h.01M310.3 84.9h.01M308.1 83.2h.01M306.5 83.8h.01M310.9 87.2h.01M313.0 85.8h.01M309.3 83.0h.01M309.3 84.2h.01M304.7 85.7h.01M305.8 82.2h.01M310.4 82.2h.01M315.1 83.3h.01M314.8 86.8h.01M308.9 84.7h.01M314.0 82.7h.01M310.6 82.1h.01M310.5 82.6h.01M310.5 86.3h.01M314.3 84.0h.01M310.9 85.9h.01M309.5 80.8h.01M313.5 81.1h.01M313.0 81.0h.01M315.6 80.8h.01M312.7 87.6h.01M307.5 87.6h.01M307.9 78.9h.01M312.4 85.5h.01M309.7 76.8h.01M310.1 82.8h.01M309.2 82.8h.01M305.1 82.1h.01M315.5 87.8h.01M309.3 81.7h.01M311.4 86.5h.01M312.4 80.5h.01M310.8 84.0h.01M314.4 86.8h.01M311.8 86.9h.01M309.2 87.7h.01M309.1 84.7h.01M312.9 81.1h.01M308.3 78.9h.01M310.8 83.5h.01M309.4 84.9h.01M304.2 83.5h.01M310.6 82.9h.01M312.6 88.3h.01M309.0 81.1h.01M308.6 83.8h.01M312.0 81.3h.01M313.2 80.8h.01M312.7 84.7h.01M311.6 89.4h.01M309.5 83.2h.01M311.7 85.9h.01M306.4 84.3h.01M308.2 85.3h.01M314.2 83.7h.01M310.0 84.1h.01M301.8 85.7h.01M311.9 84.0h.01M309.2 81.6h.01M309.8 86.9h.01M310.0 87.2h.01M302.9 82.4h.01M311.1 83.6h.01M305.5 81.8h.01M313.9 80.1h.01M307.4 80.7h.01M308.7 85.3h.01M312.0 78.1h.01M314.5 82.0h.01M308.6 88.1h.01M310.1 80.3h.01M308.5 81.6h.01M307.4 82.7h.01M312.8 84.5h.01M307.4 83.9h.01M310.4 85.6h.01M309.4 84.8h.01M316.4 83.9h.01M307.2 84.5h.01M308.0 82.6h.01M310.8 84.5h.01M309.5 85.9h.01M309.7 80.1h.01M312.8 82.6h.01M313.8 81.8h.01M311.9 84.4h.01M302.5 79.6h.01M307.1 87.4h.01M304.9 86.1h.01M313.4 84.9h.01M312.2 82.3h.01M310.3 84.2h.01M311.5 85.5h.01M309.7 81.7h.01M308.7 84.7h.01M305.5 80.2h.01M309.1 82.1h.01M309.5 76.4h.01M309.3 82.9h.01M312.5 78.3h.01M309.4 84.9h.01M311.7 86.8h.01M313.3 80.8h.01M312.1 82.7h.01M308.0 87.7h.01M308.5 81.3h.01M309.1 81.3h.01M313.2 84.6h.01M314.3 84.7h.01M308.5 86.4h.01M308.4 82.4h.01M309.8 83.7h.01M313.7 82.0h.01M311.3 83.5h.01M306.7 80.7h.01M309.7 84.7h.01M311.2 84.9h.01M310.4 82.4h.01M311.5 80.9h.01M306.4 82.7h.01M306.2 82.2h.01M308.1 82.1h.01M310.2 81.4h.01M309.1 79.0h.01M310.7 81.2h.01M311.5 76.0h.01M308.0 84.3h.01M303.2 82.6h.01M310.6 83.9h.01M306.0 84.2h.01M310.7 81.0h.01M312.5 83.5h.01M310.4 82.4h.01M311.9 83.9h.01M313.6 84.8h.01M308.5 83.0h.01M313.0 82.6h.01M311.4 85.0h.01M309.8 77.3h.01M310.7 84.2h.01M310.7 81.5h.01M313.8 83.2h.01M308.5 81.7h.01M311.3 80.6h.01M307.4 89.0h.01M314.1 86.5h.01M314.3 85.2h.01M305.4 86.8h.01M313.9 84.9h.01M304.6 87.0h.01M314.3 82.3h.01M310.7 85.7h.01M310.1 86.6h.01M310.5 85.5h.01M310.5 79.6h.01M311.1 87.2h.01M313.6 88.3h.01M311.9 82.0h.01M310.4 78.4h.01M309.8 86.1h.01M304.0 84.1h.01M312.7 87.2h.01M307.6 81.8h.01M304.8 80.8h.01M311.9 89.2h.01M307.0 87.3h.01M311.5 82.3h.01M316.7 76.7h.01M310.1 84.2h.01M316.5 88.5h.01M316.9 84.0h.01M313.2 87.3h.01M311.8 84.6h.01M309.8 82.5h.01M306.7 88.9h.01M309.0 77.9h.01M311.1 83.5h.01M310.8 88.5h.01M310.0 82.9h.01M308.1 83.5h.01M309.0 84.2h.01M319.4 84.7h.01M307.8 88.9h.01M312.8 85.8h.01M312.4 85.8h.01M312.3 87.4h.01M313.2 87.3h.01M308.8 83.6h.01M308.2 86.2h.01M312.7 82.3h.01M312.0 90.8h.01M313.9 80.6h.01M310.0 85.3h.01M310.2 84.7h.01M313.7 84.5h.01M307.1 85.5h.01M310.0 83.9h.01M308.6 79.8h.01M306.7 82.6h.01M307.2 76.2h.01M313.7 80.4h.01M308.2 85.0h.01M303.3 87.3h.01M308.1 85.4h.01M308.9 84.4h.01M310.6 83.6h.01M305.0 79.6h.01M310.2 87.4h.01M308.7 85.1h.01M310.8 84.9h.01M313.2 79.5h.01M311.1 83.1h.01M309.4 81.3h.01M308.0 80.8h.01M307.1 90.4h.01M315.3 83.6h.01M312.5 80.9h.01M302.2 78.6h.01M310.7 87.5h.01M310.2 80.9h.01M309.6 80.9h.01M306.2 83.0h.01M309.1 81.4h.01M307.7 81.1h.01M311.0 87.4h.01M309.7 89.7h.01M305.6 84.3h.01M306.9 83.2h.01M310.6 85.1h.01M313.6 82.1h.01M306.7 83.1h.01M311.2 81.7h.01M312.9 88.2h.01M306.1 84.6h.01M313.3 78.4h.01M310.9 83.0h.01M306.1 87.2h.01M310.9 82.3h.01M311.6 85.4h.01M312.5 85.2h.01M311.5 80.4h.01M309.1 84.0h.01M302.2 89.4h.01M309.2 80.7h.01M305.0 84.3h.01M310.4 82.0h.01M309.1 81.2h.01M308.1 83.3h.01M308.4 85.5h.01M309.9 84.0h.01M311.5 87.1h.01M312.1 84.2h.01M309.8 81.4h.01M309.3 85.5h.01M311.0 82.5h.01M306.4 79.4h.01M311.2 86.4h.01M311.4 79.9h.01M309.7 84.2h.01M307.6 84.5h.01M309.7 81.3h.01M306.7 85.8h.01M311.3 81.2h.01M307.3 86.0h.01M312.0 82.8h.01M315.0 82.8h.01M307.2 86.6h.01M309.7 84.5h.01M310.4 80.9h.01M306.8 83.1h.01M314.4 80.9h.01M314.3 84.2h.01M307.1 84.3h.01M312.0 81.1h.01M304.1 84.6h.01M307.1 84.8h.01M304.7 83.2h.01M307.9 79.6h.01M309.6 84.1h.01M308.7 80.4h.01M310.9 78.8h.01M311.9 84.9h.01M315.2 86.0h.01M311.3 84.3h.01M310.4 80.0h.01M314.6 85.0h.01M309.5 80.5h.01M314.6 85.0h.01M306.8 85.4h.01M315.8 83.5h.01M311.5 82.5h.01M308.5 86.5h.01M319.3 83.9h.01M309.9 85.8h.01M309.4 85.6h.01M312.7 80.8h.01M307.2 83.4h.01M312.7 84.4h.01M313.9 79.9h.01M311.7 81.9h.01M310.6 84.5h.01M307.5 83.0h.01M306.9 84.3h.01M307.8 82.3h.01M310.9 81.8h.01M313.6 81.9h.01M312.8 84.4h.01M307.3 83.0h.01M307.9 82.6h.01M309.5 88.5h.01M309.1 87.9h.01M311.6 80.1h.01M303.6 85.4h.01M304.5 85.5h.01M313.3 84.7h.01M309.7 82.9h.01M311.1 82.8h.01M308.7 82.6h.01M313.7 81.9h.01M311.4 80.5h.01M308.2 79.9h.01M309.7 85.5h.01M311.2 82.3h.01M312.1 82.7h.01M311.4 84.3h.01M311.9 76.9h.01M306.5 85.7h.01M310.0 89.7h.01M309.6 82.1h.01M314.6 85.1h.01M315.8 85.0h.01M309.7 85.6h.01M308.0 82.4h.01M308.7 83.0h.01M312.6 82.3h.01M311.2 82.3h.01M312.9 76.1h.01M309.7 84.1h.01M307.2 86.3h.01M310.9 87.1h.01M313.1 85.3h.01M309.9 80.7h.01M309.7 82.4h.01M311.0 82.3h.01M319.2 79.3h.01M313.7 82.3h.01M309.6 86.1h.01M310.3 80.3h.01M311.5 83.1h.01M304.3 84.1h.01M307.2 81.6h.01M311.7 84.4h.01M309.5 89.5h.01M311.5 81.9h.01M311.0 83.3h.01M303.9 79.3h.01M306.3 89.2h.01M309.8 82.9h.01M308.7 86.3h.01M310.4 88.2h.01M312.6 88.0h.01M310.0 84.6h.01M309.0 83.1h.01M305.3 82.0h.01M307.5 81.8h.01M313.8 84.3h.01M313.8 85.9h.01M313.0 86.3h.01M308.5 85.8h.01M309.4 82.2h.01M313.8 89.4h.01M307.5 88.3h.01M312.7 81.3h.01M311.1 84.6h.01M311.4 82.6h.01M306.6 83.7h.01M312.8 85.7h.01M312.2 86.6h.01M307.4 83.5h.01M311.3 86.3h.01M310.8 85.0h.01M310.7 89.3h.01M304.0 83.5h.01M317.5 84.2h.01M305.0 84.0h.01M306.2 81.8h.01M310.9 88.2h.01M311.6 85.4h.01M313.2 84.1h.01M307.8 83.3h.01M311.3 82.9h.01M308.4 82.6h.01M306.0 80.8h.01M310.0 82.6h.01M310.4 87.4h.01M311.2 83.5h.01M306.9 80.7h.01M311.4 81.2h.01M311.5 80.7h.01M310.7 83.4h.01M313.2 82.5h.01M309.2 84.3h.01M310.5 88.2h.01M309.6 82.2h.01M309.4 84.9h.01M311.0 85.5h.01M306.3 90.3h.01M315.6 83.5h.01M306.8 84.0h.01M311.5 77.6h.01M310.3 79.6h.01M311.6 87.3h.01M313.3 79.5h.01M314.3 86.0h.01M309.3 85.0h.01M314.7 82.7h.01M310.3 82.1h.01M313.6 77.8h.01M314.4 81.0h.01M313.0 79.2h.01M307.6 82.0h.01M312.7 79.2h.01M312.0 81.9h.01M313.9 82.8h.01M311.7 83.1h.01M315.5 82.6h.01M310.2 88.9h.01M310.5 85.4h.01M308.2 84.1h.01M303.8 83.9h.01M308.4 79.6h.01M306.2 86.7h.01M311.5 79.5h.01M315.5 81.7h.01M309.2 84.3h.01M307.0 79.2h.01M308.1 86.8h.01M313.0 79.3h.01M313.8 83.7h.01M311.7 83.7h.01M311.5 80.9h.01M307.7 81.7h.01M309.2 85.3h.01M306.8 87.9h.01M308.5 82.0h.01M312.3 84.8h.01M309.3 80.7h.01M307.4 79.3h.01M313.6 86.5h.01M315.7 84.9h.01M311.3 85.6h.01M313.0 82.9h.01M311.3 89.4h.01M305.4 79.8h.01M307.5 85.6h.01M313.7 82.7h.01M312.2 83.5h.01M311.2 82.1h.01M310.2 83.6h.01M313.6 89.6h.01M305.1 85.0h.01M310.3 86.2h.01M313.4 85.7h.01M312.6 81.0h.01M305.4 88.1h.01M313.8 81.0h.01M314.0 85.4h.01M303.2 86.0h.01M307.4 86.7h.01M308.3 81.6h.01M305.8 83.0h.01M313.2 81.8h.01M304.9 89.4h.01M315.6 85.5h.01M308.7 80.3h.01M305.6 85.1h.01M314.1 80.7h.01M310.3 82.9h.01M309.6 85.0h.01M316.3 81.9h.01M312.8 86.5h.01M309.5 83.2h.01M306.4 86.5h.01M308.8 81.8h.01M310.5 81.3h.01M307.3 82.8h.01M314.6 83.0h.01M311.8 79.6h.01M304.7 88.5h.01M309.1 79.4h.01M310.0 85.2h.01M305.3 81.2h.01M311.1 81.1h.01M312.6 86.2h.01M311.6 82.4h.01M310.2 81.9h.01M309.9 84.5h.01M309.4 86.2h.01M317.8 82.1h.01M311.3 85.8h.01M312.2 83.0h.01M308.9 86.3h.01M312.1 85.0h.01M308.0 85.3h.01M312.6 83.1h.01M312.2 89.5h.01M304.9 85.2h.01M306.9 79.9h.01M309.6 85.1h.01M310.5 80.4h.01M306.1 82.1h.01M310.3 81.4h.01M305.9 88.3h.01M307.9 83.2h.01M308.7 82.0h.01M310.4 82.8h.01M312.1 80.4h.01M306.0 88.9h.01M310.1 85.7h.01M313.7 85.1h.01M310.4 79.4h.01M305.7 86.3h.01M312.3 85.1h.01M305.5 77.8h.01M307.2 80.4h.01M310.8 80.8h.01M314.9 81.9h.01M308.7 85.9h.01M311.3 81.2h.01M312.7 88.8h.01M306.7 82.9h.01M307.2 78.3h.01M312.1 85.5h.01M313.1 84.8h.01M304.4 83.5h.01M308.4 80.4h.01M307.1 85.7h.01M309.4 88.9h.01M311.7 78.4h.01M312.9 87.0h.01M310.4 80.3h.01M315.5 80.0h.01M310.1 78.4h.01M306.6 79.0h.01M313.5 86.8h.01M309.1 79.9h.01M310.1 84.6h.01M305.8 80.4h.01M310.0 85.5h.01M310.5 84.8h.01M306.7 76.8h.01M311.2 81.1h.01M309.9 82.6h.01M311.7 81.5h.01M314.5 83.7h.01M311.8 85.3h.01M313.3 84.7h.01M305.2 81.9h.01M315.8 84.9h.01M311.9 84.9h.01M308.4 81.7h.01M308.4 86.8h.01M311.4 88.5h.01M311.8 88.8h.01M311.6 80.4h.01M315.4 84.5h.01M313.8 84.2h.01M309.3 84.1h.01M307.0 80.3h.01M307.7 82.2h.01M306.3 83.3h.01M311.2 89.2h.01M315.7 83.5h.01M312.9 83.0h.01M311.5 83.5h.01M308.7 83.8h.01M305.9 84.8h.01M309.4 80.6h.01M309.2 85.1h.01M308.3 84.9h.01M312.0 87.9h.01M307.1 83.3h.01M311.8 87.7h.01M311.1 85.7h.01M306.0 82.0h.01M315.2 82.8h.01M316.7 81.6h.01M309.5 79.2h.01M312.2 84.3h.01M316.3 84.1h.01M309.6 79.7h.01M310.1 86.2h.01M312.5 87.0h.01M312.9 83.5h.01M312.1 84.1h.01M306.4 88.3h.01M311.4 80.7h.01M311.4 84.4h.01M313.3 87.6h.01M301.3 85.1h.01M314.8 81.0h.01M304.8 84.4h.01M311.3 84.6h.01M307.0 82.3h.01M310.9 85.7h.01M316.8 84.4h.01M308.5 77.1h.01M313.5 83.2h.01M310.0 80.9h.01M312.5 78.6h.01M310.6 83.9h.01M311.2 87.2h.01M310.0 83.9h.01M312.8 79.3h.01M309.4 83.8h.01M313.1 81.4h.01M312.7 84.7h.01M305.9 79.5h.01M306.0 84.0h.01M310.9 85.6h.01M312.7 82.1h.01M313.5 85.9h.01M311.7 84.9h.01M306.5 84.6h.01M307.2 80.3h.01M309.3 84.0h.01M310.1 82.7h.01M307.3 84.1h.01M308.1 79.7h.01M310.6 87.6h.01M309.1 80.6h.01M314.4 88.4h.01M309.4 83.0h.01M310.7 86.4h.01M311.6 78.5h.01M307.0 80.2h.01M311.6 83.9h.01M315.6 82.8h.01M311.2 83.8h.01M310.7 90.1h.01M311.2 87.7h.01M314.2 81.9h.01M312.3 82.5h.01M310.6 84.0h.01M310.4 82.3h.01M315.0 82.9h.01M312.4 88.3h.01M312.2 86.5h.01M314.5 86.6h.01M315.4 79.6h.01M316.2 83.7h.01M305.1 81.8h.01M306.1 83.5h.01M305.8 80.8h.01M311.2 84.0h.01M307.9 82.9h.01M310.0 83.8h.01M310.3 83.0h.01M312.9 79.1h.01M308.8 84.0h.01M309.1 82.1h.01M309.0 84.2h.01M314.0 83.1h.01M309.5 84.6h.01M309.6 78.2h.01M311.1 82.5h.01M308.6 85.4h.01M310.4 82.0h.01M303.8 78.8h.01M310.3 83.3h.01M311.6 84.2h.01M308.9 80.1h.01M307.0 83.2h.01M306.9 85.7h.01M306.3 78.6h.01M309.7 78.6h.01M315.2 80.8h.01M310.1 82.9h.01M307.8 78.7h.01M304.7 86.0h.01M313.4 89.7h.01M305.9 85.2h.01M310.3 86.0h.01M308.8 85.6h.01M313.0 85.3h.01M314.6 83.1h.01M314.9 81.6h.01M315.3 75.9h.01M310.3 81.4h.01M310.3 86.5h.01M312.5 83.9h.01M315.4 79.5h.01M307.9 87.8h.01M311.3 77.8h.01M311.3 80.3h.01M314.7 86.8h.01M308.7 87.2h.01M307.8 86.2h.01M312.0 83.2h.01M306.0 82.8h.01M303.4 82.0h.01M304.7 87.0h.01M307.4 76.8h.01M312.1 84.6h.01M308.8 89.5h.01M312.6 83.8h.01M308.4 75.3h.01M311.7 86.3h.01M308.5 79.6h.01M310.2 78.9h.01M310.3 85.8h.01M314.8 84.3h.01M310.9 85.7h.01M314.5 82.7h.01M306.6 81.4h.01M306.5 81.1h.01M309.9 84.6h.01M310.8 83.8h.01M309.2 84.8h.01M313.0 85.7h.01M314.8 82.8h.01M309.5 88.3h.01M310.9 84.8h.01M309.3 86.3h.01M309.1 80.8h.01M310.1 82.4h.01M312.8 82.5h.01M310.7 83.0h.01M311.3 81.8h.01M313.6 79.6h.01M309.1 81.6h.01M312.2 83.7h.01M311.8 82.7h.01M308.1 80.5h.01M309.3 82.1h.01M311.1 84.6h.01M313.2 83.3h.01M308.1 80.6h.01M310.5 84.6h.01M316.1 84.1h.01M315.6 88.8h.01M307.2 87.0h.01M313.7 87.4h.01M310.3 86.3h.01M308.9 83.4h.01M310.4 88.6h.01M309.7 86.3h.01M310.5 81.6h.01M311.0 85.4h.01M308.2 85.4h.01M308.2 81.1h.01M311.0 82.9h.01M307.4 79.0h.01M310.4 84.3h.01M308.9 84.1h.01M305.7 84.7h.01M311.5 84.4h.01M308.5 83.8h.01M310.7 86.6h.01M311.1 84.3h.01M308.1 86.0h.01M313.8 82.2h.01M312.2 84.5h.01M310.2 80.0h.01M315.6 78.4h.01M311.2 82.5h.01M313.7 82.4h.01M310.4 85.3h.01M311.7 82.1h.01M312.3 84.7h.01M313.3 82.2h.01M310.2 82.5h.01M307.8 84.3h.01M311.5 87.6h.01M309.3 84.7h.01M313.7 83.3h.01M310.5 84.0h.01M308.2 80.8h.01M313.6 84.1h.01M310.1 80.1h.01M310.7 86.9h.01M306.9 81.1h.01M313.6 87.6h.01M314.9 82.1h.01M312.1 81.5h.01M311.9 82.6h.01M310.9 87.3h.01M311.3 82.9h.01M310.5 84.3h.01M308.8 84.2h.01M312.1 87.9h.01M304.1 80.3h.01M306.6 86.0h.01M317.6 84.1h.01M310.7 86.8h.01M303.0 83.1h.01M301.0 84.0h.01M308.8 82.3h.01M311.3 82.0h.01M313.6 83.6h.01M311.4 90.7h.01M309.0 86.2h.01M307.8 87.1h.01M313.2 84.0h.01M313.3 88.1h.01M314.4 83.6h.01M310.1 86.7h.01M305.9 81.9h.01M311.7 85.2h.01M315.8 88.5h.01M311.3 84.8h.01M306.4 83.1h.01M311.1 83.0h.01M310.5 85.3h.01M307.5 82.0h.01M305.0 86.8h.01M307.2 78.9h.01M312.6 83.0h.01M313.2 82.6h.01M316.6 85.6h.01M310.7 83.9h.01M309.7 85.8h.01M316.2 82.4h.01M307.1 85.3h.01M313.5 79.5h.01M308.2 80.8h.01M312.0 85.0h.01M308.1 80.5h.01M312.3 77.9h.01M312.2 83.2h.01M316.0 86.3h.01M308.6 82.8h.01M309.5 81.6h.01M310.5 86.3h.01M305.8 83.0h.01M314.7 85.6h.01M307.9 81.4h.01M307.8 79.2h.01M313.7 83.8h.01M308.2 79.6h.01M309.2 82.2h.01M315.4 82.3h.01M310.6 86.6h.01M312.3 83.1h.01M303.9 87.5h.01M312.1 82.4h.01M310.0 81.0h.01M307.6 79.5h.01M311.8 85.0h.01M310.8 85.7h.01M311.9 83.9h.01M307.7 85.2h.01M313.8 85.3h.01M314.0 82.3h.01M307.4 87.0h.01M308.6 84.3h.01M309.7 83.7h.01M309.5 82.1h.01M305.0 88.8h.01M310.9 78.3h.01M307.6 80.5h.01M308.1 76.6h.01M312.0 88.1h.01M309.6 85.6h.01M312.1 80.2h.01M313.9 79.0h.01M308.6 82.6h.01M314.0 83.9h.01M309.9 81.4h.01M310.6 83.7h.01M312.4 87.4h.01M312.5 83.7h.01M309.9 88.0h.01M310.9 83.6h.01M315.6 87.9h.01M312.0 83.3h.01M308.4 86.5h.01M309.0 86.2h.01M308.0 83.9h.01M311.5 84.0h.01M311.0 84.6h.01M307.0 80.6h.01M309.9 88.5h.01M309.9 81.1h.01M308.4 83.7h.01M313.8 82.1h.01M311.9 84.1h.01M309.3 81.0h.01M309.9 81.6h.01M311.9 78.8h.01M313.6 85.7h.01M312.0 87.7h.01M312.1 78.9h.01M310.5 84.8h.01M308.3 80.5h.01M311.6 85.0h.01M309.1 82.9h.01M308.8 82.0h.01M310.1 86.5h.01M305.6 82.7h.01M315.0 84.5h.01M310.8 85.9h.01M307.4 80.3h.01M305.4 79.6h.01M311.0 85.9h.01M309.1 81.7h.01M311.5 85.3h.01M311.1 78.4h.01M308.7 76.7h.01M311.0 81.3h.01M308.4 87.7h.01M314.2 84.9h.01M311.1 84.1h.01M308.6 83.5h.01M315.9 81.2h.01M308.4 84.0h.01M312.9 85.9h.01M307.5 83.2h.01M309.5 80.2h.01M310.5 82.3h.01M313.0 84.8h.01M308.0 83.8h.01M309.3 81.9h.01M308.9 86.5h.01M309.1 78.9h.01M308.0 85.8h.01M316.6 80.7h.01M309.3 82.7h.01M306.2 84.7h.01M310.2 84.4h.01M316.8 82.9h.01M312.6 85.9h.01M308.4 82.0h.01M314.8 85.5h.01M310.7 80.6h.01M312.9 85.0h.01M316.7 87.6h.01M312.6 84.3h.01M310.5 82.1h.01M311.2 84.3h.01M312.2 86.6h.01M311.2 82.1h.01M312.7 87.8h.01M307.9 84.7h.01M311.9 85.1h.01M311.8 83.4h.01M310.0 88.2h.01M315.4 79.8h.01M302.9 84.8h.01M308.3 82.2h.01M305.7 84.6h.01M310.1 82.1h.01M312.9 90.2h.01M314.6 86.8h.01M309.1 85.4h.01M310.2 86.7h.01M312.0 83.5h.01M311.9 81.6h.01M312.6 87.7h.01M309.2 85.1h.01M305.4 86.2h.01M312.9 80.8h.01M315.4 83.9h.01M305.3 79.9h.01M312.8 82.9h.01M313.5 79.4h.01M310.0 86.3h.01M308.3 85.5h.01M309.3 84.5h.01M311.2 89.7h.01M306.7 85.7h.01M314.1 80.5h.01M310.5 89.9h.01M313.4 75.5h.01M309.6 78.9h.01M311.2 81.6h.01M308.7 81.3h.01M311.2 82.3h.01M307.7 83.0h.01M311.5 81.3h.01M313.5 79.1h.01M311.5 82.5h.01M314.9 81.9h.01M308.4 80.0h.01M316.1 85.3h.01M307.1 82.7h.01M307.5 87.7h.01M311.5 78.1h.01M310.9 86.1h.01M310.3 84.9h.01M310.0 84.2h.01M310.9 81.7h.01M311.3 84.1h.01M310.2 81.7h.01M307.3 84.3h.01M312.7 77.0h.01M308.7 87.3h.01M313.0 81.7h.01M314.2 80.9h.01M308.0 88.9h.01M309.0 83.0h.01M305.5 80.8h.01M306.9 83.2h.01M304.9 86.5h.01M309.3 82.0h.01M308.5 85.6h.01M314.8 82.5h.01M315.0 88.0h.01M314.2 84.4h.01M306.0 85.4h.01M309.1 84.1h.01M304.8 82.8h.01M311.0 81.0h.01M311.2 88.2h.01M311.0 81.7h.01M317.3 77.7h.01M307.6 84.7h.01M308.6 77.4h.01M311.1 85.9h.01M308.0 87.6h.01M311.8 86.8h.01M305.8 83.6h.01M315.0 89.1h.01M314.2 83.6h.01M310.8 81.9h.01M313.5 81.7h.01M310.7 78.0h.01M305.9 88.5h.01M310.5 84.2h.01M303.9 83.5h.01M316.4 79.5h.01M303.3 83.2h.01M308.7 83.0h.01M306.6 79.9h.01M306.7 85.4h.01M310.2 85.8h.01M307.1 85.2h.01M309.0 83.8h.01M313.0 83.7h.01M309.3 79.0h.01M310.5 85.7h.01M308.4 83.4h.01M305.1 79.9h.01M311.5 87.1h.01M309.4 79.0h.01M309.2 79.3h.01M309.5 88.9h.01" stroke="#000" stroke-opacity="0.9" stroke-width="1.0" stroke-linecap="round" fill="none"/>
<path d="M312.0 82.1h.01M315.8 80.6h.01M312.2 83.5h.01M312.8 76.6h.01M314.1 86.0h.01M298.9 73.7h.01M305.9 89.9h.01M310.6 85.8h.01M313.3 86.2h.01M307.2 81.1h.01M312.4 85.2h.01M313.4 83.9h.01M308.0 88.0h.01M312.9 87.0h.01M297.5 89.3h.01M298.0 85.9h.01M307.1 84.1h.01M308.1 82.1h.01M311.5 84.3h.01M306.4 73.2h.01M306.5 85.9h.01M306.2 85.5h.01M308.6 79.4h.01M316.5 88.9h.01M310.0 82.9h.01M315.4 76.7h.01M306.0 88.4h.01M315.1 80.2h.01M306.5 85.1h.01M303.3 82.1h.01M309.3 73.0h.01M313.5 85.7h.01M316.0 76.1h.01M303.9 80.7h.01M305.5 82.5h.01M311.6 84.7h.01M318.0 77.2h.01M315.0 82.9h.01M304.5 84.6h.01M306.7 87.8h.01M317.2 79.3h.01M305.9 84.3h.01M305.1 87.7h.01M311.4 79.7h.01M307.0 86.6h.01M306.4 82.9h.01M305.7 90.6h.01M314.8 87.7h.01M313.9 82.8h.01M319.3 84.3h.01M312.8 85.0h.01M314.3 83.5h.01M309.6 76.5h.01M321.2 75.8h.01M299.4 81.9h.01M320.5 86.5h.01M307.4 84.6h.01M310.4 74.7h.01M308.8 84.5h.01M316.6 76.9h.01M298.8 78.3h.01M312.2 83.1h.01M311.3 83.5h.01M308.6 77.6h.01M312.9 84.2h.01M313.5 87.7h.01M304.1 74.2h.01M305.8 85.5h.01M310.4 86.1h.01M327.2 78.1h.01M309.6 80.6h.01M311.8 85.0h.01M305.5 89.4h.01M316.5 83.9h.01M309.9 82.1h.01M302.0 87.2h.01M305.4 81.7h.01M315.7 78.3h.01M307.8 87.1h.01M320.2 78.5h.01M316.2 79.3h.01M312.5 84.7h.01M304.6 88.3h.01M319.9 81.7h.01M311.9 77.8h.01M319.8 81.7h.01M303.9 87.3h.01M302.9 81.4h.01M299.4 90.6h.01M322.0 78.4h.01M307.1 81.1h.01M307.6 85.8h.01M318.1 77.5h.01M312.8 75.0h.01M318.4 81.3h.01M306.9 90.1h.01M309.9 88.9h.01M316.1 89.1h.01M306.3 83.9h.01M312.4 81.9h.01M318.4 78.7h.01M315.7 87.9h.01M300.3 80.6h.01M305.8 81.5h.01M312.5 81.9h.01M310.9 81.0h.01M310.1 85.1h.01M314.4 79.1h.01M309.9 79.9h.01M309.6 77.1h.01M315.5 85.0h.01M309.9 80.2h.01M308.1 80.6h.01M327.6 75.0h.01M304.4 86.4h.01M313.6 75.9h.01M300.5 86.9h.01M300.1 90.7h.01M307.9 83.8h.01M310.5 80.6h.01M309.8 81.9h.01M317.0 81.5h.01M310.3 80.8h.01M307.2 80.4h.01M310.6 90.7h.01M316.3 83.0h.01M319.2 85.8h.01M311.6 82.1h.01M304.8 85.0h.01M308.9 76.6h.01M311.6 84.9h.01M311.5 80.9h.01M312.9 87.2h.01M308.9 85.4h.01M315.8 80.1h.01M311.4 79.7h.01M313.6 80.9h.01M316.5 78.8h.01M319.3 80.2h.01M306.1 79.9h.01M313.9 78.8h.01M319.9 86.9h.01M313.2 76.6h.01M310.4 80.0h.01M301.1 86.3h.01M321.9 78.8h.01M314.7 87.7h.01M305.5 82.4h.01M311.9 84.8h.01M304.5 84.9h.01M309.9 87.1h.01M302.2 82.0h.01M307.9 82.1h.01M314.3 79.7h.01M324.7 77.7h.01M314.9 86.6h.01M315.5 81.3h.01M306.2 82.6h.01M314.0 82.9h.01M313.5 84.9h.01M305.9 79.8h.01M318.0 79.7h.01M306.2 79.8h.01M315.5 77.4h.01M306.0 88.2h.01M311.2 83.1h.01M307.2 82.6h.01M307.9 83.3h.01M314.5 77.0h.01M305.7 75.0h.01M318.3 81.4h.01M310.4 82.8h.01M315.7 83.5h.01M314.9 81.6h.01M309.9 82.9h.01M300.8 89.2h.01M302.3 80.2h.01M314.0 82.7h.01M314.7 89.5h.01M320.2 87.2h.01M305.9 83.4h.01M315.7 81.2h.01M309.9 81.6h.01M317.6 71.4h.01M317.1 86.4h.01M310.1 85.4h.01M305.5 88.5h.01M326.4 76.5h.01M317.8 81.6h.01M308.7 81.2h.01M309.5 77.9h.01M310.4 85.3h.01M312.1 84.7h.01M302.6 80.3h.01M313.8 86.7h.01M304.5 81.5h.01M304.9 86.7h.01M312.3 82.8h.01M307.1 85.0h.01M310.7 79.8h.01M312.2 79.9h.01M315.5 84.8h.01M306.9 86.1h.01M310.8 80.0h.01M305.7 76.8h.01M304.6 85.4h.01M316.8 79.3h.01M311.3 84.3h.01M314.6 84.2h.01M316.9 85.2h.01M306.5 85.3h.01M298.3 84.3h.01M310.6 85.4h.01M308.9 86.8h.01M317.4 78.3h.01M307.7 84.6h.01M313.1 83.2h.01M314.8 77.3h.01M314.5 87.2h.01M316.3 83.8h.01M309.3 84.9h.01M310.1 76.4h.01M307.4 83.3h.01M307.8 79.5h.01M309.3 81.6h.01M310.9 82.7h.01M311.4 87.0h.01M311.2 84.6h.01M304.1 71.6h.01M308.4 86.2h.01M308.7 80.7h.01M304.1 87.8h.01M307.8 84.5h.01M316.4 84.3h.01M322.2 80.5h.01M315.5 85.1h.01M307.1 83.8h.01M307.6 79.2h.01M312.1 79.5h.01M319.2 78.4h.01M307.7 83.9h.01M307.8 83.7h.01M307.3 77.5h.01M298.0 79.6h.01M318.4 83.6h.01M311.3 80.9h.01M309.7 84.4h.01M303.3 80.8h.01M305.9 89.1h.01M305.0 88.8h.01M310.1 83.2h.01M317.5 85.5h.01M315.4 77.7h.01M316.4 89.1h.01M310.0 81.0h.01M304.8 88.2h.01M312.0 82.8h.01M304.1 90.9h.01M315.1 82.2h.01M318.2 77.7h.01M315.1 78.0h.01M317.8 80.6h.01M316.9 80.2h.01M312.6 87.5h.01M305.8 84.2h.01M306.1 87.3h.01M307.4 81.9h.01M309.4 88.1h.01M305.1 83.8h.01M308.8 81.0h.01M306.4 83.0h.01M311.5 76.3h.01M311.7 77.8h.01M305.5 83.6h.01M309.2 87.4h.01M308.0 75.9h.01M302.1 85.1h.01M311.8 87.3h.01M307.7 86.3h.01M305.0 89.4h.01M310.1 80.2h.01M311.4 90.2h.01M306.1 78.5h.01M305.2 79.0h.01M310.2 84.5h.01M309.6 84.0h.01M316.7 80.8h.01M304.0 74.4h.01M311.8 79.9h.01M309.2 84.9h.01M312.9 76.0h.01M305.5 84.1h.01M309.8 88.0h.01M307.9 74.7h.01M316.6 75.1h.01M305.5 85.5h.01M311.7 85.1h.01M313.3 79.5h.01M317.0 74.8h.01M307.5 84.7h.01M311.2 78.8h.01M318.7 87.8h.01M305.6 85.4h.01M307.2 81.7h.01M315.6 82.7h.01M309.9 83.5h.01M304.4 89.2h.01M306.6 89.2h.01M308.1 81.5h.01M318.2 82.5h.01M307.2 81.3h.01M313.6 90.4h.01M313.7 80.8h.01M304.7 81.1h.01M309.9 84.1h.01M307.1 89.0h.01M305.5 80.8h.01M313.1 84.6h.01M308.5 87.4h.01M321.9 89.3h.01M310.8 88.6h.01M309.5 84.0h.01M313.2 75.2h.01M309.4 90.4h.01M295.3 87.1h.01M315.3 83.6h.01M311.5 88.7h.01M312.2 74.7h.01M305.6 82.6h.01M311.3 81.0h.01M310.0 90.1h.01M295.3 90.4h.01M315.4 84.7h.01M310.6 83.3h.01M312.4 83.7h.01M306.7 86.9h.01M306.2 83.5h.01M308.6 78.5h.01M313.6 82.2h.01M304.4 83.7h.01M303.3 90.2h.01M307.6 86.5h.01M305.5 80.2h.01M310.0 84.8h.01M315.3 81.1h.01M316.2 86.1h.01M306.0 83.0h.01M307.6 87.2h.01M315.2 81.1h.01M308.0 84.9h.01M306.5 78.4h.01M305.5 85.3h.01M311.5 90.2h.01M301.0 86.7h.01M304.5 88.8h.01M314.1 82.9h.01M318.1 80.2h.01M307.8 79.0h.01M307.1 84.0h.01M314.0 87.8h.01M309.1 80.2h.01" stroke="#000" stroke-opacity="0.6" stroke-width="0.84" stroke-linecap="round" fill="none"/>
<path d="M330.7 80.3h.01M329.7 80.3h.01M326.9 81.2h.01M329.4 81.1h.01M323.4 81.5h.01M337.0 84.6h.01M329.2 77.7h.01M324.0 77.1h.01M328.5 80.5h.01M320.7 83.0h.01M322.3 78.6h.01M328.0 84.3h.01M345.8 82.1h.01M331.1 80.5h.01M331.6 81.3h.01M350.1 80.0h.01M332.2 79.2h.01M335.5 80.5h.01M337.0 78.7h.01M347.6 84.2h.01M320.7 83.2h.01M329.7 77.8h.01M336.1 80.5h.01M338.1 80.7h.01M339.3 83.1h.01M335.5 82.8h.01M330.5 80.5h.01M336.1 84.7h.01M330.2 89.3h.01M344.7 79.3h.01M340.5 82.5h.01M334.6 79.5h.01M344.4 80.4h.01M332.4 79.5h.01M346.4 87.6h.01M323.9 79.6h.01M335.5 80.8h.01M330.6 78.1h.01M334.7 78.5h.01M338.8 90.7h.01M330.7 87.3h.01M335.6 80.0h.01M330.6 78.5h.01M333.8 84.4h.01M339.4 81.7h.01M324.8 80.9h.01M344.6 84.1h.01M332.6 75.0h.01M330.0 83.5h.01M326.5 85.9h.01M329.1 78.7h.01M329.0 81.3h.01M339.9 80.8h.01M320.7 80.5h.01M336.6 87.6h.01M325.3 86.2h.01M337.7 84.0h.01M327.7 78.5h.01M326.4 84.5h.01M334.5 85.8h.01" stroke="#000" stroke-opacity="0.4" stroke-width="0.84" stroke-linecap="round" fill="none"/>
<rect x="290.70" y="24.00" width="71.50" height="67.90" fill="none" stroke="#000" stroke-width="1.5"/>
<line x1="323.40" y1="24.00" x2="323.40" y2="91.90" stroke="#000" stroke-width="0.9"/>
<line x1="290.70" y1="72.40" x2="362.20" y2="72.40" stroke="#000" stroke-width="0.9"/>
<text x="327.25" y="20.5" font-size="8.2" text-anchor="middle" font-weight="normal" font-style="normal">FoxP3<tspan dy="-1.7" font-size="6.6">+</tspan><tspan dy="1.7" font-size="1">&#8203;</tspan>/IL-17<tspan dy="-1.7" font-size="6.93">-</tspan><tspan dy="1.7" font-size="1">&#8203;</tspan></text>
<text x="292.9" y="30.7" font-size="7.9" text-anchor="start" font-weight="normal" font-style="normal">0</text>
<text x="360.4" y="30.7" font-size="7.9" text-anchor="end" font-weight="normal" font-style="normal">0</text>
<text x="360.4" y="90.1" font-size="7.9" text-anchor="end" font-weight="normal" font-style="normal">1.3</text>
<path d="M433.1 38.7h.01M421.2 52.1h.01M413.2 43.1h.01M419.1 41.4h.01M422.4 38.1h.01M428.9 33.3h.01M416.3 35.9h.01M412.5 48.5h.01M425.5 40.2h.01M426.9 43.7h.01M417.8 43.6h.01M423.8 51.7h.01M418.7 45.3h.01M425.0 47.4h.01M424.2 46.9h.01M414.7 43.5h.01M409.1 46.5h.01M436.4 38.7h.01M422.1 43.6h.01M422.4 35.7h.01M417.1 43.2h.01M422.6 37.9h.01M420.8 39.1h.01M413.1 42.1h.01M416.4 48.4h.01M430.1 42.5h.01M420.1 40.2h.01M411.5 43.3h.01M431.5 44.8h.01M422.9 40.8h.01M421.5 44.6h.01M421.5 44.7h.01M416.6 44.4h.01M419.3 48.6h.01M413.6 51.6h.01M421.0 40.2h.01M421.6 43.1h.01M420.0 45.1h.01M417.8 35.5h.01M425.9 40.9h.01M432.1 40.8h.01M408.7 53.0h.01M417.1 46.7h.01M435.7 43.1h.01M414.5 44.5h.01M411.2 49.3h.01M425.1 36.3h.01M424.4 46.2h.01M426.7 37.5h.01M417.1 38.5h.01M413.2 46.9h.01M421.8 48.8h.01M423.3 40.4h.01M412.4 53.2h.01M422.6 42.0h.01M415.1 39.6h.01M425.5 36.4h.01M425.2 44.4h.01M419.1 35.4h.01M424.1 48.6h.01M416.2 38.1h.01M428.5 40.9h.01M417.5 49.9h.01M419.7 45.4h.01M418.9 39.7h.01M422.9 37.9h.01M410.2 43.7h.01M429.4 45.3h.01M435.4 42.7h.01M431.8 40.3h.01M418.7 45.8h.01M415.4 48.2h.01M418.6 44.8h.01M416.1 43.7h.01M427.8 39.4h.01M417.2 45.4h.01M427.1 39.7h.01M414.0 37.4h.01M413.0 50.7h.01M420.9 45.1h.01M428.3 41.6h.01M424.6 39.0h.01M411.2 49.1h.01M420.9 45.6h.01M414.7 44.2h.01M434.3 34.1h.01M422.1 48.7h.01M420.0 43.7h.01M407.9 50.9h.01M418.7 49.8h.01M420.9 40.9h.01M424.3 40.4h.01M418.2 51.2h.01M427.8 41.0h.01M426.7 44.8h.01M425.2 41.5h.01M422.0 44.4h.01M425.1 43.1h.01M418.0 43.4h.01M424.4 36.8h.01M421.4 46.3h.01M422.6 40.8h.01M421.4 40.3h.01M427.8 38.6h.01M410.9 40.3h.01M423.4 42.9h.01M418.5 37.2h.01M420.6 38.8h.01M417.3 44.0h.01M416.6 45.7h.01M416.8 41.9h.01M420.1 50.1h.01M431.5 43.7h.01M416.8 44.2h.01M427.3 44.5h.01M411.1 45.8h.01M416.8 47.8h.01M425.6 38.6h.01M435.1 36.6h.01M437.0 36.5h.01M421.0 51.9h.01M418.2 41.4h.01M430.9 39.2h.01M424.5 35.5h.01M432.9 43.5h.01M423.8 45.2h.01M418.3 41.4h.01M411.5 47.7h.01M429.4 44.0h.01M427.4 44.0h.01M415.6 38.3h.01M425.6 42.0h.01M427.8 39.1h.01M415.9 46.6h.01M418.0 35.9h.01M417.6 39.7h.01M414.4 42.3h.01M427.5 51.8h.01M432.5 36.9h.01M428.8 39.8h.01M424.1 38.5h.01M421.0 34.7h.01M432.9 35.0h.01M425.2 38.5h.01M423.2 36.4h.01M419.1 47.8h.01M425.3 32.0h.01M426.9 34.5h.01M423.3 44.5h.01M417.4 42.4h.01M419.9 45.0h.01M427.3 47.1h.01M423.6 51.4h.01M415.5 53.2h.01M419.8 46.8h.01M420.7 43.3h.01M415.7 46.4h.01M434.4 38.9h.01M421.4 42.6h.01M426.0 40.1h.01M421.5 43.6h.01M429.8 44.3h.01M414.8 41.8h.01M421.6 46.6h.01M427.7 39.5h.01M435.0 37.2h.01M430.4 46.4h.01M431.7 40.1h.01M425.2 34.0h.01M410.2 43.5h.01M426.1 46.1h.01M420.8 47.8h.01M425.2 48.6h.01M411.4 42.0h.01M415.4 39.6h.01M432.0 34.6h.01M416.2 42.5h.01M427.1 38.5h.01M426.2 43.6h.01M417.4 32.6h.01M415.7 38.6h.01M431.9 35.6h.01M414.7 46.7h.01M421.8 38.0h.01M428.5 44.6h.01M423.3 38.3h.01M415.9 34.6h.01M423.9 43.6h.01M415.6 44.7h.01M410.6 49.2h.01M418.8 41.1h.01M425.5 40.6h.01M427.8 42.9h.01M428.9 40.6h.01M407.8 53.7h.01M410.7 51.2h.01M423.1 35.4h.01M421.9 46.6h.01M415.0 45.0h.01M416.8 39.4h.01M417.6 50.0h.01M425.9 40.9h.01M421.0 43.3h.01M423.3 42.8h.01M410.6 50.7h.01M416.0 31.9h.01M426.0 35.3h.01M420.6 42.4h.01M417.7 46.4h.01M419.8 41.8h.01M415.4 43.3h.01M414.9 45.0h.01M429.9 44.5h.01M424.2 35.1h.01M428.1 44.8h.01M434.7 27.3h.01M421.6 40.9h.01M428.4 35.0h.01M419.1 54.5h.01M427.9 30.8h.01M421.6 49.1h.01M417.6 46.7h.01M422.1 35.3h.01M417.5 49.3h.01M429.1 37.1h.01M428.7 36.7h.01M423.1 41.9h.01M413.5 46.8h.01M419.0 30.2h.01M416.2 40.3h.01M416.2 39.7h.01M417.1 32.3h.01M427.2 41.0h.01M423.1 40.7h.01M421.9 41.1h.01M414.5 37.6h.01M422.0 47.3h.01M423.0 49.8h.01M412.8 44.2h.01M417.6 49.8h.01M432.3 36.4h.01M426.2 39.8h.01M415.1 44.2h.01M414.8 52.2h.01M425.3 47.0h.01M423.8 30.1h.01M426.6 41.2h.01M406.3 48.2h.01M428.0 48.6h.01M415.0 48.5h.01M423.6 41.0h.01M419.7 45.7h.01M425.2 44.4h.01M418.9 37.1h.01M429.9 45.9h.01M417.9 43.6h.01M426.7 32.3h.01M424.7 53.1h.01M423.2 38.5h.01M434.6 38.1h.01M422.9 40.0h.01M422.7 33.5h.01M413.3 38.2h.01M427.3 40.1h.01M428.9 30.2h.01M417.7 50.8h.01M416.4 35.2h.01M416.7 42.5h.01M421.4 48.8h.01M430.0 47.1h.01M425.2 38.8h.01M418.3 36.4h.01M429.6 45.8h.01M422.1 38.0h.01M425.8 43.4h.01M422.5 36.6h.01M423.0 39.3h.01M426.2 43.8h.01M424.3 39.5h.01M431.2 43.0h.01M429.6 43.8h.01M425.7 43.0h.01M414.7 36.0h.01M415.5 47.5h.01M427.3 41.4h.01M422.1 51.2h.01M419.0 34.8h.01M411.6 44.3h.01M426.0 44.6h.01M420.1 46.9h.01M421.2 39.1h.01M419.1 47.0h.01M427.6 35.0h.01M415.2 45.2h.01M435.1 32.3h.01M413.5 47.2h.01M424.7 38.4h.01M421.3 44.9h.01M410.4 46.2h.01M425.3 45.7h.01M428.9 39.6h.01M412.3 52.1h.01M426.4 37.8h.01M428.1 45.3h.01M420.6 31.4h.01M418.5 39.9h.01M416.2 43.9h.01M414.6 46.7h.01M433.5 32.7h.01M428.1 37.7h.01M425.0 40.7h.01M429.7 36.3h.01M426.2 37.2h.01M423.0 41.9h.01M428.4 32.5h.01M412.9 52.1h.01M424.0 49.9h.01M414.9 45.7h.01M425.3 49.7h.01M421.2 40.5h.01M426.1 40.5h.01M416.7 47.8h.01M409.4 41.7h.01M430.2 37.2h.01M419.4 45.0h.01M428.6 42.6h.01M415.4 41.8h.01M428.2 39.7h.01M417.5 48.1h.01M428.8 50.6h.01M414.7 41.4h.01M417.1 45.7h.01M418.5 48.9h.01M404.4 52.9h.01M417.4 42.6h.01M425.1 42.3h.01M415.1 51.9h.01M425.2 38.9h.01M422.8 36.7h.01M413.7 43.7h.01M423.8 42.2h.01M416.6 37.5h.01M410.9 53.8h.01M423.8 37.8h.01M429.0 42.6h.01M418.9 40.4h.01M428.7 41.6h.01M431.9 40.7h.01M417.8 40.9h.01M417.0 45.2h.01M423.1 44.9h.01M424.4 36.5h.01M420.2 38.4h.01M424.6 35.1h.01M417.8 39.6h.01M417.6 42.6h.01M431.1 38.0h.01M412.4 44.1h.01M426.2 43.6h.01M423.0 51.6h.01M428.5 40.6h.01M429.2 33.4h.01M420.4 38.7h.01M422.6 49.9h.01M418.4 51.3h.01M415.0 51.6h.01M410.8 42.0h.01M427.8 39.9h.01M422.4 42.1h.01M422.6 41.2h.01M415.3 43.2h.01M422.2 37.9h.01M424.5 50.0h.01M411.1 43.4h.01M419.7 43.2h.01M422.1 38.8h.01M421.3 42.6h.01M421.0 50.1h.01M422.3 35.1h.01M411.6 48.7h.01M419.3 40.2h.01M412.9 43.9h.01M420.9 39.4h.01M419.3 47.5h.01M426.5 43.5h.01M420.4 36.3h.01M426.4 48.1h.01M429.6 45.4h.01M423.3 43.7h.01M421.4 48.6h.01M419.8 53.5h.01M426.4 39.3h.01M421.5 34.7h.01M416.9 42.6h.01M437.0 33.3h.01M427.3 40.9h.01M419.6 46.2h.01M408.9 51.3h.01M433.7 39.8h.01M421.1 43.4h.01M425.7 38.7h.01M422.3 44.7h.01M419.3 45.1h.01M423.6 45.2h.01M415.3 42.0h.01M418.8 49.2h.01M423.1 34.0h.01M413.4 54.6h.01M423.6 35.5h.01M415.8 45.1h.01M430.5 47.3h.01M419.2 41.8h.01M433.6 33.6h.01M431.4 40.8h.01M422.1 48.5h.01M424.5 37.4h.01M411.9 45.8h.01M424.7 48.0h.01M405.0 54.6h.01M425.4 48.5h.01M426.5 41.8h.01M424.2 43.5h.01M417.5 43.3h.01M422.3 40.0h.01M412.3 38.6h.01M424.7 43.9h.01M422.2 36.6h.01M426.9 38.8h.01M408.4 54.5h.01M412.1 56.6h.01M424.9 39.2h.01M406.7 44.1h.01M430.9 45.9h.01M423.1 33.7h.01M419.1 41.9h.01M424.4 40.9h.01M423.7 33.9h.01M417.4 50.9h.01M412.3 50.1h.01M436.1 40.7h.01M412.7 51.5h.01M409.8 48.1h.01M418.9 49.4h.01M428.9 40.9h.01M432.8 43.4h.01M418.5 38.8h.01M437.0 35.3h.01M424.1 41.1h.01M418.5 35.7h.01M420.6 42.3h.01M427.7 37.9h.01M411.6 40.6h.01M421.3 43.8h.01M426.1 39.1h.01M424.9 42.0h.01M432.2 38.6h.01M422.4 44.9h.01M429.2 35.4h.01M418.5 42.2h.01M408.0 53.4h.01M428.3 40.3h.01M434.3 45.8h.01M427.2 33.7h.01M431.2 41.3h.01M414.0 45.3h.01M426.3 45.7h.01M422.6 39.6h.01M426.3 37.2h.01M421.0 46.4h.01M412.4 47.4h.01M409.1 42.2h.01M413.7 44.7h.01M426.0 40.7h.01M427.3 41.0h.01M420.2 45.3h.01M420.0 43.7h.01M428.1 37.5h.01M428.8 34.7h.01M420.1 34.5h.01M418.2 51.4h.01M423.8 47.9h.01M412.2 40.7h.01M424.4 45.5h.01M426.8 32.6h.01M424.7 41.1h.01M422.3 44.6h.01M419.7 34.9h.01M414.7 37.8h.01M413.2 44.7h.01M429.8 36.2h.01M416.7 38.6h.01M410.6 46.5h.01M418.4 42.4h.01M415.4 46.9h.01M413.9 47.7h.01M417.3 47.7h.01M415.9 46.6h.01M424.3 41.2h.01M431.8 39.9h.01M415.9 47.8h.01M416.3 41.6h.01M421.6 43.4h.01M432.3 30.4h.01M419.9 48.5h.01M420.5 44.4h.01M431.2 33.2h.01M421.8 46.3h.01M417.8 35.2h.01M415.2 45.6h.01M422.7 51.1h.01M429.9 32.1h.01M428.1 44.7h.01M431.8 38.3h.01M418.0 44.4h.01M431.3 42.2h.01M432.2 42.7h.01M417.8 38.8h.01M433.2 31.2h.01M419.3 41.7h.01M415.7 41.7h.01M421.5 54.1h.01M421.1 40.1h.01M422.3 46.8h.01M416.3 42.3h.01M410.4 49.7h.01M425.8 48.4h.01M413.9 55.7h.01M427.0 39.3h.01M419.0 41.8h.01M413.8 48.9h.01M417.7 40.3h.01M424.8 41.9h.01M417.8 42.6h.01M418.4 50.1h.01M427.8 36.8h.01M421.2 49.3h.01M419.7 51.8h.01M424.3 44.8h.01M408.3 51.1h.01M423.7 44.6h.01M424.6 44.0h.01M418.3 48.0h.01M421.9 37.2h.01M415.0 45.5h.01M423.6 31.0h.01M408.4 52.1h.01M421.4 56.4h.01M411.8 44.6h.01M417.7 46.5h.01M430.4 47.4h.01M415.1 50.7h.01M413.8 46.6h.01M422.6 45.2h.01M416.4 50.7h.01M421.1 42.6h.01M419.8 37.9h.01M426.1 42.6h.01M424.4 50.6h.01M416.0 43.0h.01M421.5 46.7h.01M420.4 47.4h.01M424.4 32.9h.01M417.2 34.0h.01M419.7 41.1h.01M425.2 42.1h.01M421.1 48.8h.01M425.3 35.2h.01M417.1 45.6h.01M432.3 37.9h.01M420.4 44.2h.01M426.5 40.4h.01M423.4 39.8h.01M418.0 39.8h.01M425.7 38.4h.01M425.0 43.3h.01M427.7 27.3h.01M415.4 38.6h.01M420.5 46.8h.01M437.6 44.6h.01M430.1 41.5h.01M419.0 46.0h.01M407.7 51.7h.01M421.6 45.5h.01M415.0 39.4h.01M417.4 43.7h.01M423.7 40.0h.01M423.7 45.1h.01M414.1 44.5h.01M411.6 43.2h.01M427.2 37.1h.01M433.3 41.0h.01M427.1 41.1h.01M427.0 46.0h.01M422.2 39.7h.01M418.0 53.1h.01M420.3 40.7h.01M417.0 35.8h.01M418.3 45.2h.01" stroke="#000" stroke-opacity="0.65" stroke-width="0.84" stroke-linecap="round" fill="none"/>
<path d="M404.8 49.8h.01M414.4 62.7h.01M405.3 62.9h.01M399.5 71.1h.01M399.4 56.3h.01M411.5 52.5h.01M397.7 86.9h.01M426.3 32.5h.01M411.3 42.0h.01M413.4 41.1h.01M416.2 63.1h.01M428.4 68.6h.01M405.1 70.9h.01M405.1 57.8h.01M404.6 37.4h.01M416.5 31.3h.01M407.5 65.1h.01M411.2 38.2h.01M403.0 68.1h.01M421.8 75.0h.01M390.5 68.3h.01M404.8 68.7h.01M391.9 60.5h.01M417.6 48.2h.01M406.1 46.8h.01M422.0 38.7h.01M400.2 56.2h.01M406.6 85.0h.01M413.0 47.0h.01M416.2 60.8h.01M413.0 56.5h.01M415.0 42.3h.01M397.1 55.8h.01M398.1 69.5h.01M430.9 68.4h.01M414.8 61.1h.01M402.6 43.6h.01M415.9 38.3h.01M413.2 55.5h.01M418.1 56.7h.01M411.1 50.5h.01M391.5 58.1h.01M417.5 69.2h.01M424.8 42.2h.01M399.9 69.1h.01M413.4 38.4h.01M404.0 78.9h.01M390.4 64.5h.01M395.1 81.4h.01M405.2 46.4h.01M391.6 53.5h.01M382.5 58.6h.01M433.4 53.7h.01M407.1 44.3h.01M413.7 51.3h.01M400.9 77.3h.01M414.7 45.9h.01M425.9 53.6h.01M415.4 58.6h.01M422.7 62.6h.01M406.3 67.8h.01M405.8 60.7h.01M427.6 40.7h.01M398.9 55.7h.01M404.6 75.4h.01M392.9 90.5h.01M427.0 48.4h.01M412.0 53.1h.01M417.2 64.5h.01M418.1 65.6h.01M430.8 51.0h.01M417.5 53.9h.01M410.4 60.6h.01M409.4 62.4h.01M400.8 58.3h.01M403.5 45.0h.01M402.4 53.6h.01M408.4 39.0h.01M407.2 44.6h.01M401.2 62.4h.01M421.9 58.7h.01M404.7 53.8h.01M424.4 34.4h.01M422.3 36.5h.01M403.2 60.2h.01M407.6 79.2h.01M415.3 56.1h.01M420.3 56.0h.01M401.3 74.0h.01M426.1 70.1h.01M397.4 84.7h.01M405.5 68.6h.01M422.8 84.5h.01M392.6 49.4h.01M422.7 61.1h.01M414.7 54.6h.01M383.1 57.4h.01M409.9 60.9h.01M418.1 52.8h.01M400.3 55.8h.01M387.3 49.5h.01M431.3 44.4h.01M409.1 81.8h.01M421.3 56.8h.01M417.9 52.8h.01M400.2 72.8h.01M411.4 77.6h.01M407.2 54.0h.01M413.7 54.8h.01M406.6 47.7h.01M412.7 61.4h.01M429.7 53.0h.01M391.1 68.3h.01M434.7 46.7h.01M401.4 58.0h.01M379.2 61.1h.01M408.0 39.7h.01M416.2 45.6h.01M390.1 53.8h.01M416.8 80.3h.01M423.5 57.2h.01M404.5 56.1h.01M420.4 49.1h.01M414.5 69.0h.01M400.2 53.0h.01M414.8 57.0h.01M408.7 51.7h.01M409.3 81.3h.01M424.7 34.4h.01M410.5 59.0h.01M410.4 40.7h.01M408.6 60.2h.01M402.6 63.6h.01M383.7 45.4h.01M411.1 62.6h.01M408.2 52.7h.01M412.0 71.0h.01M419.7 54.7h.01M405.0 72.4h.01M415.8 67.6h.01M407.0 48.0h.01M412.0 49.7h.01M422.4 65.7h.01M386.5 71.9h.01M424.4 67.5h.01M404.9 48.5h.01M420.5 68.2h.01M410.6 43.5h.01M393.5 65.2h.01M401.1 51.6h.01M414.8 70.0h.01M387.7 54.9h.01M424.0 54.2h.01M406.3 66.8h.01M397.7 45.7h.01M410.2 77.4h.01M421.0 55.3h.01M420.9 50.3h.01M397.3 40.1h.01M412.9 68.5h.01M414.0 56.6h.01M405.7 72.6h.01M409.5 40.2h.01M424.8 46.4h.01M414.2 57.0h.01M421.4 58.4h.01M423.2 57.5h.01M405.0 52.8h.01M417.0 46.0h.01M420.0 52.6h.01M400.0 49.5h.01M408.4 80.5h.01M418.3 56.3h.01M400.2 84.1h.01M407.0 58.7h.01M405.4 75.7h.01M411.9 51.8h.01M412.0 45.1h.01M398.6 58.7h.01M378.9 80.0h.01M431.5 39.0h.01M408.5 38.7h.01M411.9 60.2h.01M418.0 39.5h.01M403.5 51.5h.01M407.3 87.2h.01M407.8 58.0h.01M404.5 69.2h.01M437.7 66.0h.01M426.6 40.7h.01M421.4 55.7h.01M423.5 68.0h.01M417.1 35.4h.01M411.4 51.4h.01M414.8 57.3h.01M421.3 35.3h.01M402.0 58.9h.01M413.5 52.1h.01M409.7 58.8h.01M421.3 53.9h.01M412.6 34.7h.01M381.7 46.4h.01M413.9 28.3h.01M414.4 55.7h.01M410.0 48.9h.01M405.5 69.5h.01M413.9 56.8h.01M404.7 61.9h.01M422.9 54.7h.01M406.0 44.2h.01M411.1 46.3h.01M394.5 72.6h.01M403.3 34.1h.01M402.2 82.9h.01M408.8 41.7h.01M398.1 69.8h.01M414.4 59.6h.01M407.9 64.6h.01M426.7 60.2h.01M408.2 40.9h.01M414.8 76.5h.01M417.0 40.6h.01M412.0 73.8h.01M403.1 65.8h.01M423.1 75.4h.01M392.8 40.2h.01M414.1 65.8h.01M406.2 58.6h.01M405.6 74.1h.01M386.0 66.9h.01M396.1 52.8h.01M393.4 50.5h.01M409.7 58.4h.01M429.4 50.7h.01M413.7 61.5h.01M412.8 75.7h.01M411.5 59.5h.01M408.8 58.3h.01M409.4 70.6h.01M410.2 58.8h.01M409.5 67.6h.01M404.9 71.0h.01M403.8 68.2h.01M430.8 56.0h.01M409.1 43.4h.01M418.0 56.3h.01M419.9 47.4h.01M415.6 79.3h.01M414.4 52.9h.01M395.9 61.2h.01M417.1 63.8h.01M397.9 48.0h.01M399.4 47.7h.01M407.0 62.0h.01M430.9 55.5h.01M425.8 33.5h.01M426.7 64.1h.01M414.8 67.2h.01M416.7 80.5h.01M418.7 34.1h.01M391.0 82.7h.01M409.1 74.8h.01M406.3 50.6h.01M406.3 62.8h.01M412.0 49.7h.01M415.8 64.4h.01M400.0 46.4h.01M388.7 59.2h.01M410.1 49.2h.01M403.5 57.9h.01M410.3 65.1h.01M419.0 61.4h.01M422.2 42.9h.01M416.6 61.1h.01M398.7 52.2h.01M414.8 57.8h.01M396.3 54.3h.01M426.6 64.7h.01M410.9 74.8h.01M400.1 58.2h.01M420.4 51.3h.01M397.9 68.2h.01M411.7 41.9h.01M406.8 41.0h.01M438.3 42.8h.01M410.5 49.0h.01M399.2 54.8h.01M412.3 79.5h.01M413.1 77.0h.01M398.4 61.6h.01M405.2 39.4h.01M412.7 47.9h.01M403.7 46.5h.01M421.1 50.3h.01M408.4 60.6h.01M396.7 64.1h.01M408.1 64.0h.01M405.8 59.5h.01M415.6 68.8h.01M402.5 72.0h.01M399.3 58.2h.01M411.4 59.5h.01M382.9 52.1h.01M408.0 70.1h.01M402.3 78.8h.01M390.4 63.6h.01M415.9 56.8h.01M412.9 69.1h.01M401.2 67.5h.01M421.6 52.3h.01M384.8 49.0h.01M400.7 46.9h.01M414.7 46.8h.01M437.0 58.8h.01M395.8 57.8h.01M426.6 62.6h.01M398.9 73.6h.01M404.8 87.1h.01M404.0 66.9h.01M416.1 51.0h.01M408.3 73.0h.01M415.4 56.0h.01M414.8 78.9h.01M420.1 61.6h.01M413.6 37.5h.01M411.5 51.5h.01M418.0 48.5h.01M414.9 43.6h.01M419.7 46.5h.01M409.7 65.3h.01M406.5 58.9h.01M421.5 77.5h.01M390.4 51.3h.01M417.3 68.1h.01M404.8 60.4h.01M407.9 87.2h.01M407.8 43.5h.01M393.1 45.9h.01M424.2 49.8h.01M431.2 61.0h.01M414.2 65.1h.01M418.6 67.5h.01M399.4 53.5h.01M404.0 60.7h.01M407.3 43.1h.01M402.5 82.3h.01M433.1 41.8h.01M414.1 56.6h.01M400.8 69.1h.01M409.2 79.2h.01M415.0 52.9h.01M381.2 63.5h.01M419.2 46.8h.01M419.6 64.3h.01M390.8 60.1h.01M413.5 66.7h.01M411.7 57.4h.01M406.2 55.2h.01M410.0 44.6h.01M417.0 52.3h.01M415.7 50.3h.01M414.5 58.5h.01M419.7 61.5h.01M420.1 53.5h.01M409.4 54.9h.01M396.4 59.6h.01M421.8 64.9h.01M400.8 64.0h.01M418.2 39.0h.01M413.8 61.2h.01M418.1 59.3h.01M391.1 37.1h.01M431.6 47.9h.01M423.8 70.6h.01M411.0 43.4h.01M424.9 54.0h.01M415.6 62.7h.01M420.4 68.3h.01M394.6 44.0h.01M411.5 57.8h.01M418.5 54.3h.01M408.0 83.9h.01M424.9 69.0h.01M421.3 45.4h.01M409.1 57.3h.01M398.1 49.9h.01M411.7 42.3h.01M415.9 62.5h.01M407.4 54.4h.01M416.5 62.5h.01M414.0 41.7h.01M392.4 87.9h.01M402.9 55.1h.01M390.2 52.7h.01M402.0 69.9h.01M381.3 47.2h.01M405.5 52.9h.01M401.6 54.5h.01M392.9 65.4h.01M423.0 56.9h.01M404.2 75.2h.01M415.3 43.8h.01M403.8 51.8h.01M409.5 73.3h.01M402.3 58.0h.01M411.2 42.8h.01M404.8 66.9h.01M422.3 31.6h.01M417.7 52.5h.01M424.0 62.5h.01M431.4 56.8h.01M405.7 48.6h.01M394.4 68.6h.01M415.6 66.9h.01M413.8 38.4h.01M405.6 56.0h.01M411.7 67.2h.01M425.4 57.9h.01M387.6 50.5h.01M386.8 53.9h.01M397.0 64.1h.01M407.6 72.5h.01M421.7 49.5h.01M420.3 55.7h.01M415.0 73.7h.01M397.5 60.1h.01M426.7 44.5h.01M412.3 59.1h.01M405.5 42.7h.01M402.5 47.5h.01M421.8 58.3h.01M417.6 41.3h.01M415.5 58.5h.01M421.4 46.3h.01M418.8 73.1h.01M429.6 41.8h.01M397.8 42.6h.01M420.5 63.0h.01M413.7 46.3h.01M423.6 74.8h.01M409.6 56.6h.01M422.9 61.3h.01M424.6 49.5h.01M413.7 52.9h.01M403.8 55.8h.01M406.9 65.0h.01M406.7 59.7h.01M401.2 44.8h.01M425.5 42.1h.01M429.7 65.1h.01M385.1 55.9h.01M405.5 59.3h.01M408.1 50.9h.01M423.6 53.2h.01M420.5 47.0h.01M402.5 76.4h.01M406.9 45.0h.01M408.2 71.6h.01M408.3 49.5h.01M416.9 68.6h.01M407.8 54.6h.01M408.0 80.3h.01M408.4 63.4h.01M387.9 65.4h.01M410.6 53.9h.01M405.6 42.1h.01M393.8 63.9h.01M403.1 58.5h.01M408.1 52.2h.01M402.1 83.0h.01M398.0 54.5h.01M406.8 44.4h.01M399.6 71.2h.01M420.1 57.3h.01M423.4 44.7h.01M421.8 76.2h.01M405.9 81.5h.01M401.3 45.9h.01M409.5 48.1h.01M416.9 42.6h.01M410.9 33.4h.01M409.7 71.2h.01M407.2 62.6h.01M421.9 41.5h.01M396.2 62.3h.01M413.0 54.0h.01M399.5 75.6h.01M397.4 57.7h.01M409.6 67.1h.01M405.2 48.9h.01M431.9 42.3h.01M418.7 54.0h.01M404.9 58.7h.01M407.3 62.5h.01M382.4 64.2h.01M410.8 45.7h.01M405.8 88.1h.01M430.1 61.2h.01M412.6 53.6h.01M425.1 48.9h.01M401.1 68.7h.01M399.5 50.6h.01M425.8 34.3h.01M409.3 59.7h.01M412.8 39.2h.01M407.6 54.4h.01M430.9 65.6h.01M401.8 70.8h.01M417.1 54.9h.01M407.4 55.2h.01M393.3 54.1h.01M420.2 73.6h.01M430.2 48.6h.01M416.7 26.5h.01M407.1 43.0h.01M419.0 35.3h.01M398.7 46.9h.01M414.3 67.4h.01M400.1 82.8h.01M411.8 47.2h.01M413.8 56.9h.01M419.1 60.1h.01M433.8 66.9h.01M403.1 69.4h.01M418.3 43.6h.01M401.9 49.9h.01M383.2 72.2h.01M407.7 73.9h.01M404.0 60.4h.01M417.9 68.2h.01M413.5 44.2h.01M434.0 63.1h.01M424.8 74.6h.01M425.3 59.6h.01M415.2 64.6h.01M393.7 72.0h.01M399.5 65.7h.01M399.1 69.5h.01M404.8 90.2h.01M412.1 63.8h.01M400.2 56.7h.01M409.4 54.6h.01M405.3 48.2h.01M418.3 51.3h.01M401.2 64.6h.01M401.3 57.9h.01M404.5 47.8h.01M407.6 48.4h.01M396.5 65.6h.01M406.9 40.6h.01M405.8 61.3h.01M414.7 61.5h.01M412.8 64.7h.01M404.7 49.4h.01M416.7 51.3h.01M410.2 66.0h.01M420.3 70.8h.01M402.6 55.2h.01M416.1 38.8h.01M396.4 68.8h.01M403.4 48.1h.01M418.8 62.5h.01M420.0 51.5h.01M407.0 54.5h.01M413.3 32.1h.01M402.6 68.5h.01M401.6 59.2h.01M411.4 64.1h.01M404.9 45.2h.01M437.1 42.7h.01M428.6 31.8h.01M411.3 55.3h.01M430.6 78.4h.01M420.7 42.9h.01M401.4 50.7h.01M404.5 62.6h.01M401.6 57.0h.01M426.0 72.1h.01M389.9 51.0h.01M406.1 75.0h.01M406.5 82.5h.01M414.0 74.8h.01M400.8 56.3h.01M421.1 62.5h.01M389.9 59.4h.01M412.0 65.3h.01M403.2 81.2h.01M411.7 75.5h.01M414.5 58.0h.01M406.7 44.4h.01M419.5 65.1h.01M420.2 51.0h.01M399.2 55.9h.01M406.7 58.6h.01M420.7 44.2h.01M404.8 67.8h.01M419.9 83.1h.01M415.8 46.2h.01M398.9 50.9h.01M410.9 60.9h.01M409.4 50.6h.01M408.1 57.5h.01M416.5 57.5h.01M401.4 45.6h.01M426.1 53.1h.01M408.2 58.1h.01M422.3 51.2h.01M412.0 54.6h.01M416.4 44.0h.01M412.3 70.2h.01M422.9 62.6h.01M413.3 76.7h.01M417.8 73.5h.01M397.2 47.5h.01M418.8 52.7h.01M405.5 47.4h.01M426.2 39.5h.01M411.3 40.5h.01M408.3 86.2h.01M436.4 45.7h.01M399.2 80.7h.01M400.9 38.2h.01M413.9 43.8h.01M394.5 75.6h.01M402.3 46.7h.01M412.0 55.2h.01M422.3 56.3h.01M427.3 68.0h.01M429.3 67.3h.01M410.9 64.5h.01M410.4 38.7h.01M397.5 70.1h.01M384.7 53.8h.01M396.3 60.5h.01M399.0 63.7h.01M408.0 52.7h.01M401.0 32.8h.01M411.0 41.9h.01M407.0 63.3h.01M421.5 64.0h.01M426.1 36.7h.01M417.4 75.6h.01M414.4 43.3h.01M414.4 50.6h.01M403.2 72.7h.01M408.3 44.7h.01M402.9 83.9h.01M401.1 68.5h.01M412.1 71.9h.01M407.2 47.1h.01M403.3 46.9h.01M438.1 53.8h.01M406.7 74.3h.01M417.2 54.1h.01M416.9 59.8h.01M422.3 75.5h.01M406.8 58.4h.01M408.2 73.5h.01M414.3 66.7h.01M419.8 47.9h.01M411.6 74.7h.01M420.1 65.7h.01M407.2 54.3h.01M401.0 56.8h.01M409.5 40.5h.01M422.7 45.6h.01M412.9 64.8h.01M404.3 37.1h.01M420.6 60.6h.01M407.5 72.6h.01M419.8 44.0h.01M409.3 36.5h.01M407.4 76.0h.01M401.2 70.3h.01M394.0 58.2h.01M420.3 76.8h.01M415.1 66.2h.01M391.8 85.6h.01M436.7 59.1h.01M410.9 61.0h.01M410.5 50.3h.01M410.0 56.5h.01M417.4 64.7h.01M420.7 62.7h.01M399.8 77.6h.01M381.5 66.2h.01M413.7 50.6h.01M430.3 39.8h.01M397.6 54.7h.01M414.7 66.7h.01M411.4 65.9h.01M402.7 52.3h.01M411.6 41.1h.01M412.2 52.7h.01M417.5 43.8h.01M404.5 52.4h.01M406.3 46.6h.01M407.4 42.0h.01M415.9 64.9h.01M410.0 55.7h.01M400.7 48.4h.01M407.8 47.4h.01M397.6 63.0h.01M410.0 53.0h.01M401.5 59.4h.01M402.8 54.5h.01M412.2 66.4h.01M418.3 48.6h.01M423.1 40.7h.01M408.3 74.5h.01M435.5 53.6h.01M406.3 54.3h.01M397.2 59.3h.01M405.7 49.8h.01M423.0 45.4h.01M428.2 64.1h.01M417.0 49.1h.01M404.8 34.7h.01M413.1 54.0h.01M414.3 48.8h.01M415.4 38.3h.01M386.8 69.3h.01M423.9 50.5h.01M408.4 39.5h.01M399.5 69.3h.01M402.3 59.4h.01M408.5 82.9h.01M419.7 39.5h.01M405.1 45.1h.01M395.4 53.1h.01M421.9 55.8h.01M417.3 54.6h.01M405.7 60.1h.01M409.4 81.9h.01M429.3 58.1h.01M416.6 32.0h.01M408.9 87.7h.01M401.7 70.0h.01M423.1 50.0h.01M407.8 52.9h.01M418.6 56.3h.01M426.1 68.8h.01M410.1 90.0h.01M406.9 51.3h.01M407.6 47.7h.01M405.7 58.2h.01M419.6 36.3h.01M395.3 52.0h.01M406.9 64.4h.01M401.8 78.6h.01M404.5 56.6h.01M410.7 72.3h.01M413.3 57.6h.01M404.4 61.4h.01M414.4 52.7h.01M409.9 35.4h.01M404.5 73.9h.01M425.2 53.5h.01M387.2 86.0h.01M408.3 90.1h.01M405.8 71.4h.01M403.6 76.5h.01M422.4 41.9h.01M423.9 90.0h.01M407.8 43.6h.01M413.1 52.4h.01M394.2 48.8h.01M412.7 38.6h.01M421.6 60.8h.01M408.2 75.7h.01M400.3 68.8h.01M395.8 57.4h.01M416.9 49.8h.01M408.9 66.3h.01M426.3 70.3h.01M415.0 53.6h.01M394.8 82.8h.01M430.0 26.7h.01M419.3 55.3h.01M417.6 60.1h.01M408.1 58.4h.01M409.7 72.5h.01M407.3 51.9h.01M417.0 64.3h.01M414.7 60.4h.01M425.7 68.1h.01M412.4 54.9h.01M417.1 33.2h.01M404.6 50.5h.01M411.9 52.8h.01M436.2 60.9h.01" stroke="#000" stroke-opacity="0.45" stroke-width="0.84" stroke-linecap="round" fill="none"/>
<path d="M396.1 85.9h.01M394.5 76.8h.01M399.3 79.6h.01M398.1 81.4h.01M393.1 76.0h.01M391.8 79.2h.01M398.4 72.9h.01M392.5 73.6h.01M402.2 78.6h.01M395.4 73.2h.01M390.6 76.8h.01M394.7 73.2h.01M393.7 82.8h.01M394.6 78.3h.01M386.5 79.4h.01M394.0 75.6h.01M389.2 79.3h.01M390.6 77.1h.01M388.4 79.5h.01M398.0 73.8h.01M395.8 72.0h.01M396.8 79.3h.01M393.0 81.7h.01M391.2 79.2h.01M401.0 76.0h.01M390.2 83.6h.01M396.6 76.3h.01M387.5 73.1h.01M388.7 85.3h.01M395.7 74.5h.01M399.0 82.1h.01M391.3 80.8h.01M388.2 81.3h.01M401.5 70.6h.01M394.8 75.6h.01M394.2 78.4h.01M395.6 81.0h.01M396.5 81.3h.01M398.4 80.9h.01M391.9 80.3h.01M393.1 75.3h.01M402.1 76.8h.01M394.7 70.1h.01M393.6 81.1h.01M393.8 76.2h.01M400.2 75.1h.01M393.3 78.0h.01M393.6 82.2h.01M396.7 77.1h.01M393.2 77.6h.01M401.0 74.9h.01M397.0 71.4h.01M395.8 80.2h.01M399.4 77.7h.01M396.8 78.5h.01M398.6 84.4h.01M395.3 74.7h.01M396.8 76.9h.01M397.0 80.1h.01M395.1 76.2h.01M395.7 73.0h.01M395.6 74.4h.01M396.3 77.9h.01M393.7 73.8h.01M394.7 75.4h.01M394.0 80.7h.01M398.2 72.1h.01M398.1 82.0h.01M398.9 77.7h.01M394.2 84.6h.01M393.3 72.7h.01M394.9 79.0h.01M390.6 74.6h.01M402.1 76.1h.01M397.5 74.9h.01M388.7 79.1h.01M399.7 74.0h.01M387.7 79.4h.01M393.5 78.4h.01M390.5 78.0h.01M392.5 81.9h.01M395.1 81.1h.01M394.3 70.1h.01M387.1 82.2h.01M397.9 80.2h.01M394.3 71.4h.01M392.7 80.1h.01M399.8 75.1h.01M392.4 75.7h.01M398.4 80.1h.01M387.6 84.6h.01M391.0 73.6h.01M388.4 77.1h.01M403.4 84.8h.01M389.8 76.9h.01M395.1 79.4h.01M392.7 72.6h.01M393.0 75.9h.01M387.7 80.6h.01M388.9 73.2h.01M400.3 79.8h.01M400.1 76.8h.01M393.0 78.1h.01M389.3 82.3h.01M395.6 76.5h.01M387.4 79.7h.01M400.8 81.5h.01M397.9 75.7h.01M395.1 79.9h.01M395.3 81.7h.01M392.0 70.1h.01M385.3 77.4h.01M389.3 82.1h.01M398.7 76.8h.01M396.6 77.7h.01M395.2 76.0h.01M393.0 82.9h.01M393.5 78.1h.01M399.1 80.3h.01M393.0 79.4h.01M390.7 79.6h.01M395.8 77.6h.01M395.2 79.2h.01M384.9 77.8h.01M394.8 76.1h.01M390.9 78.2h.01M400.7 75.3h.01M392.1 76.9h.01M390.0 81.2h.01M390.8 82.5h.01M398.0 79.1h.01M398.5 76.5h.01M387.8 79.8h.01M397.0 71.5h.01M389.9 83.5h.01M396.2 82.5h.01M397.1 77.5h.01M396.2 80.7h.01M394.4 77.2h.01M395.8 76.5h.01M403.8 72.4h.01M388.7 74.9h.01M398.6 75.3h.01M395.2 77.0h.01M395.6 72.3h.01M394.9 75.7h.01M398.7 79.1h.01M389.7 75.8h.01M396.7 81.8h.01M397.5 76.5h.01M398.8 67.9h.01M392.5 75.0h.01M390.6 81.3h.01M395.6 78.7h.01M394.0 80.5h.01M397.6 74.9h.01M398.2 73.4h.01M401.3 71.1h.01M393.4 74.3h.01M394.7 82.9h.01M391.7 85.5h.01M400.0 77.8h.01M392.3 82.0h.01M383.5 78.4h.01M398.3 76.7h.01M404.1 72.6h.01M389.4 78.7h.01M396.8 83.7h.01M387.8 80.6h.01M399.4 74.0h.01M392.8 74.0h.01M397.5 80.2h.01M396.8 78.2h.01M398.4 76.4h.01M397.3 80.2h.01M399.6 78.4h.01M394.9 80.5h.01M388.6 73.2h.01M400.8 76.6h.01M390.5 77.0h.01M394.0 78.4h.01M391.6 82.6h.01M387.9 90.5h.01M390.4 85.5h.01M397.1 70.9h.01M389.8 79.6h.01M395.6 76.1h.01M394.6 78.6h.01M390.1 79.5h.01M403.4 72.9h.01M390.6 81.7h.01M399.8 80.3h.01M392.1 78.4h.01M395.3 77.0h.01M396.1 81.6h.01M396.7 77.3h.01M393.8 84.9h.01M389.8 86.9h.01M397.4 77.5h.01M391.6 85.7h.01M399.3 80.0h.01M402.7 68.8h.01M394.9 76.7h.01M391.7 79.1h.01M396.7 79.3h.01M394.0 73.2h.01M396.7 79.6h.01M402.9 79.0h.01M394.6 73.7h.01M405.2 72.2h.01M395.3 80.6h.01M396.5 82.4h.01M390.5 76.6h.01M395.2 73.1h.01M392.1 83.9h.01M395.7 77.3h.01M392.3 78.8h.01M394.4 74.0h.01M397.7 72.2h.01M399.6 75.2h.01M385.6 74.8h.01M395.7 74.4h.01M401.7 81.1h.01M402.8 78.9h.01M399.9 74.1h.01M399.7 74.8h.01M394.4 72.9h.01M394.8 79.4h.01M394.3 73.9h.01M398.1 80.4h.01M394.2 81.1h.01M398.5 73.1h.01M394.4 71.0h.01M390.5 80.8h.01M391.1 80.5h.01M396.0 69.8h.01M392.6 84.3h.01M394.6 78.4h.01M391.8 72.8h.01M388.2 90.8h.01M393.8 74.9h.01M395.0 70.5h.01M400.1 82.8h.01M391.6 80.1h.01M391.0 82.3h.01M391.2 78.4h.01M399.7 78.4h.01M393.3 72.6h.01M388.2 84.4h.01M396.6 77.6h.01M399.6 77.0h.01M391.7 78.5h.01M394.2 78.0h.01M404.5 77.2h.01M395.6 76.7h.01M391.8 75.0h.01M387.1 78.5h.01M388.5 72.8h.01M390.8 71.4h.01M400.0 81.1h.01" stroke="#000" stroke-opacity="0.7" stroke-width="0.84" stroke-linecap="round" fill="none"/>
<path d="M407.4 85.2h.01M420.4 66.9h.01M415.3 73.0h.01M401.2 76.0h.01M424.3 78.8h.01M403.4 74.4h.01M409.0 81.6h.01M414.3 73.1h.01M407.8 69.1h.01M408.3 80.6h.01M399.8 77.8h.01M414.2 80.3h.01M405.9 80.6h.01M427.5 86.1h.01M402.0 76.9h.01M413.4 77.5h.01M407.2 80.4h.01M433.9 83.0h.01M407.4 74.7h.01M420.9 77.5h.01M409.0 81.9h.01M419.2 81.1h.01M413.7 82.1h.01M411.3 72.5h.01M415.0 71.4h.01M425.1 79.9h.01M401.6 77.7h.01M421.9 75.6h.01M418.4 74.7h.01M414.5 76.7h.01M418.9 73.1h.01M406.0 78.3h.01M411.0 79.1h.01M411.0 71.7h.01M421.0 78.1h.01M420.9 75.6h.01M412.2 82.1h.01M401.5 84.0h.01M419.2 76.8h.01M415.8 79.4h.01M408.9 78.1h.01M407.4 69.6h.01M416.7 77.4h.01M420.3 79.2h.01M420.7 80.2h.01M406.6 81.9h.01M436.6 74.7h.01M404.9 79.7h.01M422.4 81.1h.01M427.4 71.4h.01M418.1 78.9h.01M425.1 73.4h.01M415.2 75.5h.01M413.7 76.4h.01M413.8 69.9h.01M414.7 77.3h.01M411.9 62.8h.01M409.5 74.4h.01M408.0 83.4h.01M422.5 76.3h.01M419.9 90.2h.01M407.2 78.9h.01M410.2 83.0h.01M423.9 76.5h.01M420.0 73.8h.01M402.3 80.4h.01M428.2 75.8h.01M410.8 69.8h.01M432.3 72.2h.01M407.2 76.2h.01M424.8 77.2h.01M414.9 77.1h.01M421.9 76.9h.01M416.3 76.7h.01M406.1 82.4h.01M409.4 71.7h.01M411.5 77.1h.01M421.6 71.1h.01M404.8 77.7h.01M418.1 72.6h.01M405.9 77.7h.01M413.9 70.5h.01M408.0 83.0h.01M406.5 81.2h.01M402.7 83.0h.01M427.9 74.5h.01M409.5 79.5h.01M405.0 79.2h.01M424.8 78.1h.01M417.6 76.4h.01M423.1 73.7h.01M427.8 76.9h.01M412.4 70.4h.01M411.5 78.0h.01M425.0 70.5h.01M414.0 74.2h.01M405.4 77.0h.01M408.9 80.5h.01M393.3 80.0h.01M399.7 69.2h.01M419.2 75.6h.01M416.0 73.1h.01M406.6 74.0h.01M414.6 73.6h.01M411.6 73.5h.01M416.9 72.4h.01M398.3 66.5h.01M414.9 77.4h.01M422.7 74.0h.01M405.8 71.0h.01M421.1 74.5h.01M422.9 76.7h.01M412.8 69.5h.01M409.6 80.2h.01M410.1 79.7h.01M401.8 81.1h.01M437.4 81.5h.01M417.6 72.0h.01M410.8 74.4h.01M416.5 68.9h.01M408.1 80.2h.01M416.2 80.0h.01M421.9 72.4h.01M404.2 78.9h.01M415.3 77.3h.01M408.5 81.1h.01M419.0 81.6h.01M412.2 79.8h.01M414.5 73.2h.01M414.4 70.4h.01M413.6 77.7h.01M420.6 72.8h.01M404.3 74.1h.01M398.4 74.4h.01M436.0 77.6h.01M408.9 74.3h.01M429.2 72.3h.01M414.1 76.7h.01M409.1 74.1h.01M401.5 73.6h.01M425.4 82.7h.01M412.7 79.8h.01M418.7 77.4h.01M413.9 81.9h.01M419.6 76.1h.01M413.1 80.7h.01M410.2 74.1h.01M412.8 75.0h.01M425.1 78.4h.01M414.3 74.9h.01M426.4 78.8h.01M431.7 80.6h.01M413.3 74.8h.01M412.7 77.7h.01M421.3 79.0h.01M427.6 70.9h.01M415.2 71.3h.01M406.7 74.6h.01M409.8 73.1h.01M402.8 81.6h.01M412.4 80.9h.01M406.1 67.7h.01M410.2 80.5h.01M410.5 78.6h.01M406.4 82.6h.01M418.5 81.2h.01M412.8 82.1h.01M415.6 75.0h.01M409.9 77.2h.01M407.7 72.2h.01M416.0 79.8h.01M412.7 80.4h.01M427.7 71.9h.01M417.1 73.1h.01M409.8 77.7h.01M396.0 79.4h.01M421.7 79.2h.01M420.2 84.3h.01M412.1 81.4h.01M426.6 79.0h.01M400.7 76.4h.01M412.6 70.5h.01M414.5 80.0h.01M412.9 76.3h.01M426.8 74.5h.01M407.4 77.2h.01M424.0 79.4h.01M415.6 75.0h.01M424.9 80.5h.01M401.1 78.3h.01M395.7 83.0h.01M419.9 74.5h.01M404.6 75.8h.01M400.9 79.3h.01M410.9 69.9h.01M414.8 81.7h.01M404.8 75.6h.01M429.6 77.7h.01M410.5 77.8h.01M421.2 73.0h.01M414.2 70.4h.01M402.3 70.8h.01M421.8 78.2h.01M420.9 81.9h.01M415.4 77.9h.01M418.2 78.9h.01M406.5 75.9h.01M413.8 77.1h.01M409.0 76.5h.01M417.3 77.7h.01M419.7 80.3h.01M419.5 80.9h.01M421.7 82.6h.01M420.0 74.5h.01M433.7 81.5h.01M425.0 79.9h.01M415.4 72.4h.01M418.5 75.6h.01M411.8 68.4h.01M427.4 72.3h.01M406.2 78.9h.01M419.5 73.8h.01M414.9 78.0h.01M416.3 79.1h.01M421.2 75.5h.01M402.0 85.7h.01M411.9 73.0h.01M421.0 79.3h.01M410.0 86.4h.01M396.1 82.1h.01M414.7 78.2h.01M417.5 76.1h.01M417.5 71.8h.01M411.8 84.4h.01M394.3 81.9h.01M397.1 73.6h.01M422.0 75.4h.01M410.4 71.0h.01M414.0 76.3h.01M409.9 70.7h.01M416.2 78.7h.01M424.1 79.1h.01M427.2 81.8h.01M392.3 83.7h.01M414.2 72.8h.01M418.5 80.8h.01M402.6 72.0h.01M420.5 74.8h.01M426.7 77.9h.01M410.6 71.7h.01M419.8 70.1h.01M404.5 71.7h.01M428.7 83.8h.01M413.2 75.5h.01M420.6 82.0h.01M408.5 85.8h.01M413.3 81.5h.01M396.0 76.8h.01M409.4 85.0h.01M413.3 71.9h.01M430.7 74.2h.01M415.0 72.0h.01M420.4 77.8h.01M412.7 75.4h.01M410.4 74.1h.01M403.7 81.8h.01M422.2 71.4h.01M405.6 78.6h.01M433.2 76.2h.01M412.5 76.0h.01M417.0 76.3h.01M423.7 80.9h.01M419.4 83.3h.01M413.1 74.8h.01M438.9 69.2h.01M402.5 67.5h.01M417.9 72.7h.01M423.5 68.6h.01M413.9 75.4h.01M406.3 81.5h.01M411.8 78.8h.01M410.8 77.6h.01M411.4 77.3h.01M414.2 74.3h.01M418.5 76.3h.01M407.2 72.8h.01M418.5 82.3h.01M404.5 75.3h.01M418.6 81.2h.01M420.7 72.2h.01M415.3 80.6h.01M416.9 76.1h.01M405.5 77.7h.01M414.5 77.1h.01M427.1 81.8h.01M408.6 77.9h.01M412.5 77.4h.01M428.1 80.7h.01M415.3 74.4h.01M413.7 78.5h.01M411.0 81.4h.01M415.2 72.3h.01M431.4 65.4h.01M412.8 76.5h.01M422.9 81.5h.01M426.7 83.3h.01M417.5 77.5h.01M423.2 76.9h.01M404.9 75.2h.01M420.3 79.5h.01M406.1 81.8h.01M417.5 71.0h.01M418.8 81.0h.01M419.3 75.7h.01M408.6 81.5h.01M416.8 77.0h.01M411.8 72.9h.01M399.9 75.6h.01M423.9 80.1h.01M409.5 83.1h.01M413.2 73.0h.01M422.9 82.6h.01M411.9 72.1h.01M414.5 67.2h.01M415.4 83.1h.01M417.2 74.1h.01M420.7 75.0h.01M425.2 75.6h.01M431.4 75.6h.01M416.5 73.2h.01" stroke="#000" stroke-opacity="0.6" stroke-width="0.84" stroke-linecap="round" fill="none"/>
<rect x="368.70" y="24.00" width="71.50" height="67.90" fill="none" stroke="#000" stroke-width="1.5"/>
<line x1="401.50" y1="24.00" x2="401.50" y2="91.90" stroke="#000" stroke-width="0.9"/>
<line x1="368.70" y1="70.20" x2="440.20" y2="70.20" stroke="#000" stroke-width="0.9"/>
<text x="405.25" y="20.5" font-size="8.2" text-anchor="middle" font-weight="normal" font-style="normal">FoxP3<tspan dy="-1.7" font-size="6.93">-</tspan><tspan dy="1.7" font-size="1">&#8203;</tspan>/IL-17<tspan dy="-1.7" font-size="6.6">+</tspan><tspan dy="1.7" font-size="1">&#8203;</tspan></text>
<text x="370.9" y="30.7" font-size="7.9" text-anchor="start" font-weight="normal" font-style="normal">8</text>
<text x="438.4" y="30.7" font-size="7.9" text-anchor="end" font-weight="normal" font-style="normal">60.3</text>
<text x="370.9" y="90.1" font-size="7.9" text-anchor="start" font-weight="normal" font-style="normal">13.3</text>
<text x="438.4" y="90.1" font-size="7.9" text-anchor="end" font-weight="normal" font-style="normal">18.3</text>
<path d="M483.7 82.3h.01M496.2 78.2h.01M497.8 79.7h.01M489.3 81.0h.01M496.5 82.9h.01M502.9 81.7h.01M487.9 79.3h.01M496.3 77.6h.01M492.2 80.0h.01M492.7 81.5h.01M501.4 85.3h.01M500.2 83.6h.01M485.3 84.2h.01M503.4 76.8h.01M512.8 78.7h.01M475.3 86.6h.01M494.0 78.7h.01M489.1 84.2h.01M495.5 79.9h.01M502.3 78.1h.01M487.0 79.7h.01M487.8 83.1h.01M491.7 78.1h.01M490.0 75.6h.01M494.8 81.2h.01M498.1 80.2h.01M496.5 78.3h.01M493.7 81.4h.01M484.2 83.0h.01M494.6 81.1h.01M489.9 86.7h.01M493.5 78.9h.01M487.0 82.9h.01M491.9 78.9h.01M488.0 83.8h.01M494.2 83.9h.01M493.4 77.7h.01M500.1 81.6h.01M488.5 80.3h.01M486.1 83.6h.01M490.3 82.4h.01M495.5 80.2h.01M496.3 80.2h.01M484.5 80.2h.01M484.5 83.4h.01M498.5 79.2h.01M498.2 81.5h.01M500.9 78.1h.01M493.7 78.2h.01M488.3 85.0h.01M478.2 79.0h.01M497.2 83.0h.01M487.5 75.6h.01M480.4 82.5h.01M501.9 83.2h.01M487.9 85.0h.01M492.1 82.8h.01M492.0 85.5h.01M489.6 75.2h.01M491.1 81.6h.01M495.6 78.9h.01M491.7 77.9h.01M491.7 81.3h.01M495.3 85.5h.01M478.3 83.0h.01M496.8 77.7h.01M494.0 81.0h.01M485.9 83.3h.01M508.0 82.3h.01M499.4 83.7h.01M492.5 83.7h.01M487.4 81.7h.01M498.9 84.4h.01M491.3 80.3h.01M497.1 80.6h.01M494.5 83.2h.01M487.7 83.6h.01M496.4 80.2h.01M484.0 79.6h.01M493.2 83.6h.01M478.6 83.5h.01M495.0 77.8h.01M500.0 81.9h.01M496.8 78.2h.01M485.1 83.8h.01M504.1 81.6h.01M492.0 79.8h.01M480.5 84.2h.01M492.8 84.4h.01M488.0 84.1h.01M488.1 82.8h.01M503.9 78.7h.01M500.4 80.7h.01M486.4 81.8h.01M498.4 78.8h.01M491.5 79.5h.01M487.7 80.6h.01M499.7 79.4h.01M502.9 79.6h.01M488.3 84.2h.01M504.1 78.8h.01M497.9 77.6h.01M490.4 80.1h.01M498.8 77.3h.01M489.6 79.2h.01M494.3 77.6h.01M483.4 89.2h.01M495.1 76.8h.01M499.8 77.1h.01M479.3 86.1h.01M502.9 78.3h.01M485.3 82.6h.01M508.8 82.1h.01M498.5 77.5h.01M480.1 82.6h.01M501.1 81.1h.01M493.5 84.8h.01M487.2 84.3h.01M499.7 79.0h.01M494.4 81.3h.01M497.9 78.1h.01M491.8 81.3h.01M493.7 81.1h.01M495.4 80.4h.01M489.8 84.0h.01M488.7 80.3h.01M486.9 78.1h.01M496.9 80.8h.01M492.5 82.3h.01M492.2 82.9h.01M507.0 81.5h.01M491.5 85.6h.01M498.8 76.2h.01M503.5 81.2h.01M499.9 77.6h.01M487.1 79.5h.01M497.6 77.8h.01M488.2 83.8h.01M488.7 81.5h.01M486.8 76.6h.01M492.9 80.7h.01M482.8 84.1h.01M499.6 83.2h.01M489.7 78.0h.01M492.8 81.5h.01M492.2 79.4h.01M486.0 79.3h.01M492.9 79.7h.01M505.9 79.8h.01M496.9 79.6h.01M492.1 78.4h.01M489.9 77.0h.01M478.0 85.2h.01M485.6 82.5h.01M492.6 79.5h.01M498.9 79.3h.01M496.7 79.9h.01M500.7 83.3h.01M494.0 84.0h.01M497.3 85.1h.01M492.6 76.8h.01M495.1 81.6h.01M490.8 80.5h.01M491.5 77.6h.01M506.3 78.4h.01M485.5 77.0h.01M487.2 81.1h.01M504.5 82.2h.01M488.1 77.8h.01M485.1 81.1h.01M500.0 79.4h.01M505.4 85.8h.01M494.7 75.0h.01M501.6 80.4h.01M498.5 83.5h.01M486.0 81.4h.01M494.8 78.9h.01M498.7 80.5h.01M490.5 86.2h.01M494.7 85.4h.01M492.3 83.9h.01M487.9 81.6h.01M501.5 74.8h.01M497.5 80.1h.01M501.6 81.2h.01M492.9 77.5h.01M515.3 78.2h.01M491.1 79.1h.01M491.2 81.7h.01M483.5 84.2h.01M491.5 82.7h.01M477.8 80.1h.01M491.3 80.0h.01M488.5 82.0h.01M496.5 78.2h.01M478.9 83.5h.01M491.1 84.0h.01M500.0 80.5h.01M482.9 80.4h.01M488.1 84.6h.01M480.9 84.0h.01M482.0 79.9h.01M483.0 79.5h.01M490.2 82.1h.01M489.1 83.0h.01M506.5 81.0h.01M484.9 80.8h.01M492.7 80.0h.01M502.0 83.8h.01M508.3 81.9h.01M473.7 81.4h.01M498.4 78.6h.01M489.0 83.6h.01M494.5 77.9h.01M489.1 72.7h.01M493.4 77.7h.01M493.1 77.8h.01M486.6 79.8h.01M514.1 77.0h.01M484.7 79.8h.01M501.3 82.9h.01M498.6 79.9h.01M494.4 78.9h.01M492.1 78.8h.01M482.7 78.7h.01M507.8 81.5h.01M487.9 80.9h.01M490.1 84.4h.01M493.2 79.3h.01M498.5 81.7h.01M488.4 79.1h.01M494.5 76.5h.01M486.7 84.0h.01M499.8 83.8h.01M490.1 79.5h.01M491.4 79.8h.01M502.9 80.0h.01M503.5 78.7h.01M496.2 85.3h.01M487.9 79.4h.01M489.0 76.8h.01M491.2 79.3h.01M509.8 79.1h.01M477.6 84.1h.01M500.5 80.6h.01M495.6 82.9h.01M489.3 81.3h.01M494.5 85.5h.01M503.9 81.1h.01M483.5 83.8h.01M493.0 84.2h.01M493.8 81.5h.01M498.3 78.8h.01M488.5 87.4h.01M487.0 83.8h.01M498.5 83.0h.01M503.5 77.0h.01M500.5 75.1h.01M493.8 81.9h.01M501.0 83.7h.01M486.5 80.5h.01M492.2 79.1h.01M487.4 79.4h.01M501.9 84.4h.01M499.0 85.4h.01M494.1 78.0h.01M488.6 81.7h.01M501.0 84.0h.01M486.8 83.8h.01M489.5 82.8h.01M500.2 84.8h.01M489.5 81.8h.01M496.6 79.7h.01M494.1 82.6h.01M481.2 79.7h.01M510.5 81.6h.01M489.3 76.1h.01M486.3 82.7h.01M498.4 82.0h.01M497.8 79.2h.01M505.2 77.5h.01M497.2 80.1h.01M480.8 83.9h.01M491.4 83.0h.01M502.8 81.1h.01M488.5 80.6h.01M492.9 85.0h.01M499.7 85.1h.01M499.0 78.7h.01M500.3 83.4h.01M492.5 82.3h.01M491.0 77.6h.01M492.7 83.1h.01M490.7 75.0h.01M487.5 84.2h.01M495.1 84.0h.01M487.8 80.1h.01M486.0 79.1h.01M497.2 81.2h.01M489.8 81.9h.01M483.7 80.3h.01M482.3 77.3h.01M483.3 78.4h.01M505.1 84.3h.01M502.7 79.1h.01M498.0 77.7h.01M489.4 81.8h.01M481.6 82.0h.01M497.9 75.2h.01M475.3 80.9h.01M492.5 81.4h.01M485.0 82.9h.01M494.3 79.0h.01M505.5 81.3h.01M498.9 85.9h.01M489.7 80.5h.01M480.5 80.8h.01M496.6 87.7h.01M497.5 81.4h.01M484.0 79.0h.01M479.7 77.7h.01M494.2 81.8h.01M486.6 80.7h.01M487.4 82.9h.01M498.1 79.3h.01M490.0 77.8h.01M489.9 87.1h.01M493.3 83.4h.01M497.7 84.9h.01M491.0 78.6h.01M501.1 83.2h.01M488.5 84.2h.01M493.3 80.9h.01M507.0 82.0h.01M495.7 80.0h.01M494.9 83.8h.01M496.7 78.8h.01M496.7 80.6h.01M495.7 80.4h.01M477.2 77.2h.01M490.5 75.0h.01M482.2 87.0h.01M498.5 79.5h.01M495.8 74.7h.01M495.2 83.6h.01M494.8 77.3h.01M500.5 79.3h.01M489.1 81.7h.01M491.1 86.7h.01M492.3 87.0h.01M496.7 77.5h.01M493.4 81.1h.01M504.0 84.1h.01M512.3 78.5h.01M490.1 87.6h.01M486.7 82.2h.01M505.3 77.8h.01M490.8 79.0h.01M497.3 82.0h.01M493.1 82.8h.01M487.5 80.2h.01M496.8 86.4h.01M493.1 81.2h.01M503.1 80.9h.01M503.0 81.3h.01M501.9 81.2h.01M486.5 78.9h.01M496.6 86.1h.01M507.2 79.6h.01M512.0 77.2h.01M487.1 83.8h.01M482.1 83.9h.01M496.2 82.6h.01M484.4 82.4h.01M500.4 80.6h.01M501.0 80.8h.01M495.9 80.0h.01M483.3 80.9h.01M497.1 78.8h.01M478.8 77.2h.01M503.2 80.0h.01M487.7 84.6h.01M492.1 76.9h.01M490.1 78.7h.01M492.0 78.5h.01M493.9 82.3h.01M489.1 80.6h.01M492.2 83.3h.01M488.0 83.3h.01M502.7 80.1h.01M486.2 80.4h.01M480.2 80.0h.01M484.5 80.9h.01M490.6 82.5h.01M494.3 82.1h.01M493.0 81.8h.01M484.9 83.2h.01M503.1 83.7h.01M483.4 82.5h.01M481.3 83.6h.01M491.9 79.8h.01M487.8 80.5h.01M493.3 78.3h.01M493.8 81.7h.01M497.3 80.7h.01M493.3 87.4h.01M500.9 81.6h.01M483.0 83.1h.01M497.7 73.5h.01M492.2 82.1h.01M493.7 81.3h.01M492.2 84.9h.01M496.2 80.1h.01M491.7 86.9h.01M486.9 79.8h.01M495.8 81.3h.01M495.6 84.7h.01M501.9 81.9h.01M493.7 80.8h.01M491.7 83.9h.01M483.9 78.5h.01M490.0 78.5h.01M487.9 84.5h.01M476.6 83.2h.01M483.6 80.7h.01M489.1 78.4h.01M482.3 81.6h.01M471.2 75.9h.01M490.5 84.2h.01M507.3 79.7h.01M487.4 80.4h.01M496.9 83.5h.01M486.3 82.6h.01M493.2 84.2h.01M490.3 80.5h.01M487.0 77.6h.01M495.4 82.9h.01M501.8 81.4h.01M489.9 78.6h.01M484.7 79.3h.01M495.9 81.2h.01M476.2 81.4h.01M491.3 78.2h.01M493.3 82.5h.01M485.7 77.5h.01M491.0 81.8h.01M491.5 85.4h.01M494.5 78.2h.01M499.2 79.0h.01M498.6 81.1h.01M502.7 77.9h.01M498.8 82.0h.01M486.6 83.2h.01M510.4 81.4h.01M487.7 80.8h.01M503.2 81.4h.01M504.5 78.8h.01M503.3 76.2h.01M492.2 80.2h.01M489.7 84.5h.01M488.9 82.2h.01M507.4 82.8h.01M490.3 79.1h.01M478.3 82.6h.01M500.1 83.8h.01M495.3 86.9h.01M499.3 74.3h.01M486.8 83.5h.01M490.4 83.4h.01M512.7 78.2h.01M510.1 80.2h.01M482.4 81.7h.01M500.3 79.1h.01M505.3 78.1h.01M492.0 83.6h.01M491.8 79.5h.01M493.3 82.8h.01M506.5 84.3h.01M507.6 80.4h.01M480.9 81.3h.01M490.3 78.3h.01M489.6 81.0h.01M493.9 83.5h.01M486.6 84.5h.01M493.8 83.0h.01M502.9 77.2h.01M505.5 78.6h.01M496.5 83.9h.01M500.4 76.4h.01M494.7 84.1h.01M492.5 80.8h.01M494.0 85.6h.01M489.4 78.5h.01M485.1 79.8h.01M491.7 82.0h.01M492.8 76.2h.01M481.6 83.3h.01M499.0 77.0h.01M500.6 74.0h.01M511.1 82.0h.01M480.9 82.9h.01M493.2 79.7h.01M490.7 80.5h.01M492.7 78.5h.01M489.2 82.7h.01M497.5 77.1h.01M489.7 85.5h.01M498.9 85.4h.01M483.2 78.5h.01M477.0 76.2h.01M490.6 78.2h.01M485.2 79.4h.01M492.1 83.4h.01M497.7 75.9h.01M504.8 79.7h.01M485.9 81.2h.01M490.4 77.2h.01M505.3 79.0h.01M488.9 82.7h.01M506.2 81.9h.01M486.7 82.5h.01M501.9 81.8h.01M498.4 79.5h.01M493.0 76.3h.01M488.0 78.0h.01M493.5 85.2h.01M476.4 77.9h.01M486.4 81.0h.01M502.3 78.5h.01M487.5 84.6h.01M496.3 82.4h.01M499.8 78.7h.01M495.2 79.1h.01M488.0 81.6h.01M496.8 77.3h.01M487.6 82.9h.01M494.8 82.8h.01M491.1 78.8h.01M499.4 82.5h.01M471.9 84.2h.01M487.7 83.1h.01M505.5 79.8h.01M486.1 82.0h.01M494.2 82.6h.01M482.8 82.1h.01M500.3 82.7h.01M498.3 84.2h.01M487.2 84.7h.01M495.1 78.2h.01M491.2 81.8h.01M496.0 84.7h.01M495.0 79.5h.01M510.2 79.5h.01M487.2 83.8h.01M490.3 78.9h.01M485.4 84.6h.01M485.4 81.6h.01M490.0 80.6h.01M487.3 81.7h.01M498.1 83.8h.01M490.8 77.8h.01M482.2 81.4h.01M474.6 85.4h.01M493.7 81.3h.01M482.9 79.6h.01M487.8 83.1h.01M490.4 82.9h.01M497.4 75.5h.01M491.7 84.6h.01M489.6 81.5h.01M492.5 77.6h.01M510.1 80.0h.01M498.4 79.6h.01M504.2 83.8h.01M502.5 83.3h.01M498.9 84.7h.01M496.6 81.3h.01M499.7 78.3h.01M474.1 84.0h.01M494.7 79.0h.01M491.5 78.4h.01M487.1 81.8h.01M494.4 83.3h.01M492.8 82.8h.01M498.7 78.9h.01M480.6 79.6h.01M491.6 79.6h.01M510.3 78.5h.01M497.1 78.8h.01M498.8 77.3h.01M500.8 81.3h.01M490.4 77.8h.01M506.2 78.9h.01M504.5 73.9h.01M484.3 86.4h.01M507.1 80.6h.01M501.1 82.4h.01M490.8 81.5h.01M484.7 77.6h.01M494.4 83.0h.01M494.7 77.6h.01M500.0 81.0h.01M499.2 80.0h.01M491.5 84.0h.01M504.0 77.3h.01M485.1 84.0h.01M496.2 81.1h.01M486.0 84.1h.01M494.9 81.6h.01M496.4 79.5h.01M496.5 81.3h.01M499.0 81.9h.01M483.7 79.4h.01M491.5 84.3h.01M488.5 84.4h.01M501.7 83.2h.01M510.7 80.4h.01M495.9 84.3h.01M496.6 83.7h.01M492.5 85.0h.01M496.2 75.6h.01M501.8 80.2h.01M486.8 80.5h.01M491.3 84.3h.01M496.0 80.7h.01M493.4 78.5h.01M488.6 79.9h.01M491.8 77.9h.01M490.4 83.9h.01M497.0 80.9h.01M496.1 80.3h.01M484.5 83.8h.01M510.6 81.8h.01M498.7 87.7h.01M484.3 82.8h.01M490.9 80.4h.01M480.9 81.3h.01M496.5 76.5h.01M491.8 79.7h.01M485.9 83.1h.01M506.0 81.7h.01M501.3 82.9h.01M493.0 82.7h.01M503.6 79.5h.01M492.4 77.3h.01M479.3 79.3h.01M500.3 81.8h.01M495.5 84.6h.01M480.0 85.4h.01M494.1 83.2h.01M504.0 78.4h.01M486.9 82.4h.01M493.1 79.4h.01M492.5 79.1h.01M494.5 79.9h.01M506.5 77.7h.01M497.9 81.1h.01M505.6 77.9h.01M489.9 86.0h.01M488.5 80.2h.01M490.5 78.4h.01M502.8 84.9h.01M492.3 79.0h.01M483.2 83.2h.01M489.5 82.7h.01M475.1 80.5h.01M498.3 82.0h.01M471.6 82.7h.01M494.5 80.9h.01M490.9 79.9h.01M494.6 82.4h.01M469.4 81.9h.01M500.6 80.2h.01M502.8 78.1h.01M508.1 83.2h.01M490.4 88.8h.01M504.5 85.0h.01M484.4 81.1h.01M497.1 83.8h.01M494.1 77.4h.01M502.8 80.2h.01M496.9 80.0h.01M492.6 77.3h.01M498.6 79.1h.01M480.0 82.7h.01M493.2 83.7h.01M499.8 77.5h.01M492.2 81.1h.01M494.2 78.1h.01M494.1 83.7h.01M503.0 84.7h.01M499.3 73.9h.01M491.4 79.6h.01M471.4 86.1h.01M500.5 80.8h.01M496.3 82.3h.01M491.8 84.9h.01M507.4 82.8h.01M489.3 81.9h.01M501.0 82.7h.01M488.3 83.9h.01M499.0 82.4h.01M490.3 81.1h.01M478.9 81.5h.01M490.1 80.3h.01M491.4 80.2h.01M494.2 81.3h.01M488.8 80.8h.01M492.8 82.4h.01M496.9 79.9h.01M487.2 76.7h.01M484.0 82.5h.01M486.5 85.7h.01M492.3 80.0h.01M492.3 79.6h.01M488.7 81.4h.01M482.5 81.8h.01M492.8 78.6h.01M501.3 81.7h.01M501.8 78.9h.01M484.0 78.1h.01M481.5 76.3h.01M505.4 79.3h.01M495.0 79.5h.01M492.4 85.4h.01M480.3 78.8h.01M494.5 78.5h.01M498.8 84.4h.01M500.3 82.8h.01M492.3 83.8h.01M487.4 78.0h.01M491.5 80.4h.01M502.8 78.0h.01M502.2 78.6h.01M483.9 76.7h.01M493.2 77.1h.01M495.1 81.1h.01M490.5 75.8h.01M489.5 82.4h.01M479.9 83.4h.01M493.6 79.5h.01M495.1 82.8h.01M493.3 78.9h.01M499.5 78.9h.01M496.3 83.6h.01M503.5 85.0h.01M501.3 81.1h.01M492.0 81.6h.01M497.5 89.1h.01M498.5 78.6h.01M505.1 76.2h.01M501.2 77.2h.01M485.2 79.9h.01M491.3 77.4h.01M498.2 80.5h.01M503.7 77.8h.01M479.7 83.4h.01M491.8 83.8h.01M475.7 78.2h.01M494.2 86.4h.01M484.1 76.1h.01M490.0 85.0h.01M505.6 76.8h.01M488.9 76.1h.01M487.1 78.6h.01M496.8 84.0h.01M511.7 79.4h.01M499.7 81.4h.01M494.5 86.3h.01M498.9 85.1h.01M495.8 83.3h.01M497.4 80.6h.01M488.2 80.1h.01M493.6 80.0h.01M490.9 79.2h.01M500.0 80.1h.01M492.6 80.4h.01M503.5 79.2h.01M504.3 78.2h.01M505.2 82.3h.01" stroke="#000" stroke-opacity="0.72" stroke-width="0.84" stroke-linecap="round" fill="none"/>
<path d="M469.3 82.8h.01M476.6 78.2h.01M470.5 82.3h.01M470.6 80.5h.01M471.6 82.2h.01M475.0 85.4h.01M470.1 90.1h.01M470.0 86.7h.01M470.9 77.1h.01M469.5 80.4h.01M476.3 75.0h.01M468.7 81.1h.01M474.5 82.3h.01M475.4 80.6h.01M470.5 84.9h.01M479.3 81.9h.01M472.2 78.7h.01M481.0 81.9h.01M474.3 76.4h.01M474.2 88.3h.01M470.8 80.8h.01M478.4 80.3h.01M475.3 86.8h.01M466.3 79.2h.01M474.6 81.5h.01M471.7 80.8h.01M472.1 82.3h.01M469.4 80.6h.01M472.6 78.0h.01M473.5 74.7h.01M474.4 80.8h.01M466.2 85.6h.01M466.2 87.8h.01M468.2 85.1h.01M471.2 86.1h.01M470.5 84.4h.01M470.1 75.9h.01M473.3 82.6h.01M473.3 86.1h.01M468.2 77.3h.01M472.7 79.2h.01M471.1 81.3h.01M467.8 84.8h.01M471.0 86.6h.01M472.6 84.4h.01M470.2 79.5h.01M469.2 78.9h.01M473.5 81.6h.01M466.7 77.1h.01M467.7 76.2h.01M467.6 77.1h.01M474.7 77.7h.01M468.9 81.1h.01M471.7 82.5h.01M474.9 83.0h.01M470.0 85.1h.01M473.2 79.1h.01M478.2 77.4h.01M473.6 84.9h.01M472.0 82.3h.01M472.1 83.2h.01M472.5 81.3h.01M474.7 75.5h.01M472.7 80.3h.01M480.3 81.6h.01M468.6 83.4h.01M469.8 77.9h.01M470.3 82.9h.01M476.8 84.1h.01M472.5 80.8h.01M472.4 84.8h.01M471.0 84.8h.01M468.0 81.5h.01M475.0 83.2h.01M472.4 79.7h.01M463.5 80.5h.01M467.7 80.4h.01M478.6 78.6h.01M475.3 81.0h.01M466.6 82.0h.01M474.9 77.6h.01M466.4 80.5h.01M474.8 79.3h.01M473.4 82.5h.01M471.6 82.6h.01M477.2 80.4h.01M473.0 78.1h.01M468.3 81.2h.01M475.1 79.1h.01M465.3 84.5h.01M482.1 73.0h.01M466.8 82.0h.01M473.7 78.4h.01M473.0 84.5h.01M470.3 83.5h.01M472.1 78.5h.01M468.8 79.7h.01M477.4 84.3h.01M472.6 76.6h.01M469.4 80.3h.01M463.0 81.8h.01M472.8 77.3h.01M469.6 80.1h.01M479.7 82.7h.01M474.9 81.3h.01M465.9 84.4h.01M468.5 75.8h.01M474.7 80.1h.01M471.5 82.8h.01M470.5 82.6h.01M477.2 80.0h.01M470.0 81.5h.01M474.4 79.9h.01M471.9 79.3h.01M471.2 82.9h.01M467.9 81.0h.01M465.1 79.7h.01M471.9 82.8h.01M467.0 81.3h.01M467.4 82.5h.01M472.7 82.5h.01M470.6 77.2h.01M469.1 77.5h.01M468.5 81.3h.01M476.3 79.1h.01M468.1 82.1h.01M462.4 87.8h.01M464.7 84.7h.01M475.8 83.9h.01M471.1 83.5h.01M470.0 84.2h.01M468.6 79.1h.01M473.2 79.9h.01M474.5 78.6h.01M472.7 78.3h.01M471.1 87.7h.01M466.8 78.0h.01M464.5 81.1h.01M478.6 79.5h.01M475.6 80.5h.01M468.7 87.4h.01M476.2 75.6h.01M467.2 82.8h.01M474.4 80.5h.01M472.9 82.8h.01M470.0 84.3h.01M467.8 83.8h.01M475.5 81.6h.01M470.0 81.3h.01M461.8 82.7h.01M465.3 75.8h.01M474.8 78.4h.01M473.1 81.3h.01M463.8 79.2h.01M470.3 82.8h.01M471.8 77.6h.01M469.2 81.8h.01M466.0 80.4h.01M469.1 75.2h.01M479.0 83.4h.01M469.5 84.2h.01M467.0 86.1h.01M469.9 81.8h.01M469.0 81.7h.01M472.9 81.3h.01M467.9 83.8h.01M473.9 81.1h.01M476.1 78.8h.01M477.1 80.5h.01M478.1 79.6h.01M470.4 82.0h.01M476.3 85.2h.01M469.5 79.3h.01M474.8 84.7h.01M474.6 80.1h.01M477.1 80.9h.01M472.2 83.1h.01M469.0 74.8h.01M472.5 83.3h.01M473.4 82.8h.01M472.2 84.3h.01M472.0 85.7h.01M471.7 83.6h.01M469.1 82.3h.01M473.4 81.6h.01M478.2 81.0h.01M476.4 82.0h.01M476.3 78.3h.01M469.9 84.2h.01M467.9 82.7h.01M474.0 81.7h.01M473.4 82.8h.01M470.5 82.6h.01M469.3 80.1h.01M464.6 81.5h.01M464.1 81.9h.01M472.4 78.0h.01M471.8 82.1h.01M470.0 78.7h.01M471.0 82.5h.01M475.5 86.7h.01M462.9 82.9h.01M473.4 79.3h.01M472.9 87.4h.01M472.0 85.3h.01M476.1 79.7h.01M461.4 85.4h.01M478.2 75.7h.01M470.6 79.3h.01M472.4 81.4h.01M476.5 79.2h.01M479.9 75.7h.01M472.5 89.1h.01M471.1 83.2h.01M475.4 80.0h.01M463.2 82.5h.01M474.7 75.1h.01M469.4 83.1h.01M461.0 81.4h.01M464.6 77.8h.01M473.3 84.5h.01M476.6 79.0h.01M473.7 75.9h.01M465.1 83.3h.01M469.8 78.4h.01M463.4 81.2h.01M481.2 74.7h.01M467.0 84.9h.01M463.2 80.0h.01M471.8 84.6h.01M471.2 86.7h.01M471.4 81.0h.01M473.4 82.2h.01M465.0 78.9h.01M470.5 82.4h.01M466.2 79.5h.01M468.3 82.5h.01M469.6 83.2h.01M473.2 78.5h.01M470.2 77.7h.01M472.0 83.7h.01M467.2 76.4h.01M473.8 80.3h.01M471.4 82.7h.01M473.2 83.9h.01M469.5 74.9h.01M469.4 80.5h.01M469.7 82.6h.01M470.4 85.2h.01" stroke="#000" stroke-opacity="0.6" stroke-width="0.84" stroke-linecap="round" fill="none"/>
<path d="M480.6 80.0h.01M483.8 88.4h.01M476.9 76.0h.01M483.6 83.0h.01M488.2 79.3h.01M470.9 71.8h.01M485.5 79.1h.01M508.6 81.5h.01M493.0 83.8h.01M477.6 75.1h.01M483.7 85.9h.01M499.6 77.7h.01M473.5 83.7h.01M500.8 75.6h.01M506.8 76.9h.01M496.8 79.2h.01M484.2 77.6h.01M496.1 82.5h.01M497.4 78.9h.01M478.1 88.5h.01M508.1 79.2h.01M474.6 86.0h.01M489.6 80.2h.01M498.0 81.4h.01M489.3 87.9h.01M465.9 82.6h.01M476.5 80.3h.01M486.0 81.1h.01M459.7 82.8h.01M515.4 78.4h.01M498.6 82.5h.01M491.5 78.0h.01M495.5 81.1h.01M505.0 83.3h.01M479.7 68.4h.01M505.8 81.9h.01M490.0 77.6h.01M489.1 78.5h.01M494.8 85.4h.01M494.1 83.8h.01M491.1 81.4h.01M473.1 80.5h.01M488.6 79.7h.01M485.2 81.2h.01M481.2 79.2h.01M472.5 89.2h.01M477.5 75.2h.01M481.7 78.3h.01M475.3 70.3h.01M507.4 84.1h.01M483.5 82.2h.01M474.9 73.5h.01M492.0 82.3h.01M479.9 80.0h.01M451.6 79.5h.01M500.5 80.7h.01M490.1 82.3h.01M463.3 74.9h.01M472.9 81.0h.01M480.6 72.5h.01M498.6 79.3h.01M499.8 88.0h.01M468.4 74.9h.01M500.8 85.6h.01M492.7 81.4h.01M496.2 82.6h.01M472.9 83.0h.01M499.8 78.4h.01M477.1 78.1h.01M481.0 82.1h.01M497.2 80.1h.01M484.4 72.9h.01M482.9 76.0h.01M481.4 81.4h.01M477.6 77.9h.01M474.4 79.0h.01M484.6 84.0h.01M464.8 83.6h.01M495.7 77.9h.01M479.8 80.8h.01M494.2 79.4h.01M486.1 80.1h.01M475.1 81.1h.01M494.9 80.2h.01M474.4 80.0h.01M486.7 81.3h.01M483.0 83.3h.01M500.9 83.3h.01M490.8 84.8h.01M487.5 79.3h.01M470.9 80.1h.01M502.5 76.2h.01M497.3 75.0h.01M491.5 87.2h.01M488.5 75.4h.01M491.4 79.4h.01M497.4 77.9h.01M467.3 78.1h.01M495.0 84.1h.01M491.2 80.1h.01M496.1 79.2h.01M482.6 80.9h.01M501.0 78.0h.01M493.9 77.5h.01M479.2 80.7h.01M472.1 76.7h.01M473.8 77.6h.01M477.1 89.2h.01M495.2 80.3h.01M472.0 70.7h.01M493.2 77.5h.01M500.4 78.5h.01M472.4 77.5h.01M469.7 74.5h.01M496.4 77.9h.01M496.1 77.8h.01M485.2 77.9h.01M481.4 77.4h.01" stroke="#000" stroke-opacity="0.4" stroke-width="0.84" stroke-linecap="round" fill="none"/>
<rect x="446.60" y="24.00" width="71.60" height="67.90" fill="none" stroke="#000" stroke-width="1.5"/>
<line x1="479.40" y1="24.00" x2="479.40" y2="91.90" stroke="#000" stroke-width="0.9"/>
<line x1="446.60" y1="72.40" x2="518.20" y2="72.40" stroke="#000" stroke-width="0.9"/>
<text x="483.20000000000005" y="20.5" font-size="8.2" text-anchor="middle" font-weight="normal" font-style="normal">FoxP3<tspan dy="-1.7" font-size="6.93">-</tspan><tspan dy="1.7" font-size="1">&#8203;</tspan>/IL-17<tspan dy="-1.7" font-size="6.93">-</tspan><tspan dy="1.7" font-size="1">&#8203;</tspan></text>
<text x="448.8" y="30.7" font-size="7.9" text-anchor="start" font-weight="normal" font-style="normal">0</text>
<text x="516.4000000000001" y="30.7" font-size="7.9" text-anchor="end" font-weight="normal" font-style="normal">0.2</text>
<text x="448.8" y="90.1" font-size="7.9" text-anchor="start" font-weight="normal" font-style="normal">16.1</text>
<text x="517.6" y="70.8" font-size="7.9" text-anchor="end" font-weight="normal" font-style="normal">83.7</text>
<line x1="204.00" y1="71.70" x2="204.00" y2="25.00" stroke="#000" stroke-width="1.5"/>
<path d="M204 21.4 L207.2 27 L204 25.8 L200.8 27 Z" fill="#000"/>
<text x="206.7" y="84.5" font-size="7" text-anchor="middle" font-weight="normal" font-style="normal" transform="rotate(-90 206.7 84.5)">IL-17</text>
<text x="211.4" y="101.9" font-size="7.3" text-anchor="start" font-weight="normal" font-style="normal">IFNγ</text>
<line x1="229.40" y1="99.90" x2="514.50" y2="99.90" stroke="#000" stroke-width="1.3"/>
<path d="M518.8 99.9 L512.6 102.5 L513.8 99.9 L512.6 97.3 Z" fill="#000"/>
<text x="203.2" y="127.8" font-size="12" text-anchor="start" font-weight="bold" font-style="normal">E</text>
<rect x="237.20" y="208.67" width="17.40" height="0.93" fill="#fff" stroke="#000" stroke-width="0.8"/>
<rect x="254.60" y="209.23" width="17.40" height="0.37" fill="#ddd" stroke="#000" stroke-width="0.8"/>
<rect x="272.00" y="138.27" width="17.40" height="71.33" fill="#6e6e6e" stroke="#000" stroke-width="0.8"/>
<rect x="289.40" y="199.76" width="17.40" height="9.84" fill="#000" stroke="#000" stroke-width="0.8"/>
<line x1="280.70" y1="138.27" x2="280.70" y2="136.67" stroke="#000" stroke-width="0.8"/>
<line x1="276.50" y1="136.67" x2="284.90" y2="136.67" stroke="#000" stroke-width="0.9"/>
<rect x="229.20" y="131.40" width="86.40" height="78.20" fill="none" stroke="#000" stroke-width="1.2"/>
<line x1="226.70" y1="209.60" x2="229.20" y2="209.60" stroke="#000" stroke-width="0.9"/>
<text x="225.5" y="211.7" font-size="5.9" text-anchor="end" font-weight="normal" font-style="normal">0</text>
<line x1="226.70" y1="191.03" x2="229.20" y2="191.03" stroke="#000" stroke-width="0.9"/>
<text x="225.5" y="193.125" font-size="5.9" text-anchor="end" font-weight="normal" font-style="normal">1</text>
<line x1="226.70" y1="172.45" x2="229.20" y2="172.45" stroke="#000" stroke-width="0.9"/>
<text x="225.5" y="174.54999999999998" font-size="5.9" text-anchor="end" font-weight="normal" font-style="normal">2</text>
<line x1="226.70" y1="153.88" x2="229.20" y2="153.88" stroke="#000" stroke-width="0.9"/>
<text x="225.5" y="155.975" font-size="5.9" text-anchor="end" font-weight="normal" font-style="normal">3</text>
<line x1="226.70" y1="135.30" x2="229.20" y2="135.30" stroke="#000" stroke-width="0.9"/>
<text x="225.5" y="137.4" font-size="5.9" text-anchor="end" font-weight="normal" font-style="normal">4</text>
<text x="217.4" y="169.6" font-size="7.2" text-anchor="middle" font-weight="bold" font-style="normal" transform="rotate(-90 217.4 169.6)">IL-17 (ng/mL)</text>
<rect x="254.60" y="217.70" width="11.60" height="4.60" fill="#fff" stroke="#000" stroke-width="1.1"/>
<text x="267.7" y="222.7" font-size="7.75" text-anchor="start" font-weight="normal" font-style="normal" style="stroke-width:0.3px">medium</text>
<rect x="254.60" y="228.20" width="11.60" height="4.60" fill="#ddd" stroke="#000" stroke-width="1.1"/>
<text x="267.7" y="233.2" font-size="7.75" text-anchor="start" font-weight="normal" font-style="normal" style="stroke-width:0.3px">TGFβ</text>
<rect x="254.60" y="238.70" width="11.60" height="4.60" fill="#6e6e6e" stroke="#000" stroke-width="1.1"/>
<text x="267.7" y="243.7" font-size="7.75" text-anchor="start" font-weight="normal" font-style="normal" style="stroke-width:0.3px">IL-1β + IL-6</text>
<rect x="254.60" y="249.20" width="11.60" height="4.60" fill="#000" stroke="#000" stroke-width="1.1"/>
<text x="267.7" y="254.2" font-size="7.75" text-anchor="start" font-weight="normal" font-style="normal" style="stroke-width:0.3px">IL-1β + IL-6</text>
<text x="281.0" y="263.9" font-size="7.75" text-anchor="start" font-weight="normal" font-style="normal" style="stroke-width:0.3px">+ TGFβ</text>
<text x="342.5" y="128.8" font-size="12" text-anchor="start" font-weight="bold" font-style="normal">F</text>
<rect x="420.80" y="134.30" width="88.60" height="14.60" fill="#000" stroke="none" stroke-width="1"/>
<rect x="420.80" y="155.70" width="90.14" height="14.60" fill="#000" stroke="none" stroke-width="1"/>
<rect x="420.80" y="176.50" width="87.97" height="14.60" fill="#000" stroke="none" stroke-width="1"/>
<rect x="420.80" y="197.60" width="87.97" height="14.60" fill="#000" stroke="none" stroke-width="1"/>
<rect x="420.80" y="218.30" width="84.26" height="14.60" fill="#000" stroke="none" stroke-width="1"/>
<rect x="420.80" y="239.70" width="86.34" height="14.60" fill="#000" stroke="none" stroke-width="1"/>
<rect x="420.80" y="261.00" width="0.54" height="14.60" fill="#000" stroke="none" stroke-width="1"/>
<rect x="420.80" y="282.00" width="0.45" height="14.60" fill="#000" stroke="none" stroke-width="1"/>
<rect x="420.80" y="131.30" width="95.50" height="168.20" fill="none" stroke="#000" stroke-width="1.2"/>
<line x1="421.00" y1="299.50" x2="421.00" y2="301.70" stroke="#000" stroke-width="0.9"/>
<text transform="translate(421.30 309.6) scale(0.8 1)" font-size="6.9" text-anchor="middle">0</text>
<line x1="443.62" y1="299.50" x2="443.62" y2="301.70" stroke="#000" stroke-width="0.9"/>
<text transform="translate(443.93 309.6) scale(0.8 1)" font-size="6.9" text-anchor="middle">25</text>
<line x1="466.25" y1="299.50" x2="466.25" y2="301.70" stroke="#000" stroke-width="0.9"/>
<text transform="translate(466.55 309.6) scale(0.8 1)" font-size="6.9" text-anchor="middle">50</text>
<line x1="488.88" y1="299.50" x2="488.88" y2="301.70" stroke="#000" stroke-width="0.9"/>
<text transform="translate(489.18 309.6) scale(0.8 1)" font-size="6.9" text-anchor="middle">75</text>
<line x1="511.50" y1="299.50" x2="511.50" y2="301.70" stroke="#000" stroke-width="0.9"/>
<text transform="translate(511.80 309.6) scale(0.8 1)" font-size="6.9" text-anchor="middle">100</text>
<text x="467.8" y="317.6" font-size="7.8" text-anchor="middle" font-weight="normal" font-style="normal">% suppression</text>
<text x="416.0" y="145.3" font-size="7.8" text-anchor="end" font-weight="normal" font-style="normal"><tspan font-style="italic">ex vivo</tspan><tspan font-size="5"> </tspan>DR<tspan dy="-1.9" font-size="6.4">neg</tspan><tspan dy="1.9" font-size="1">&#8203;</tspan> Treg</text>
<text x="416.0" y="165.3" font-size="7.8" text-anchor="end" font-weight="normal" font-style="normal"><tspan font-style="italic">ex vivo</tspan><tspan font-size="5"> </tspan>DR<tspan dy="-2.4" font-size="5.8">+</tspan><tspan dy="2.4" font-size="1">&#8203;</tspan> Treg</text>
<line x1="376.90" y1="178.00" x2="376.90" y2="210.50" stroke="#000" stroke-width="1.1"/>
<text x="416.4" y="186.2" font-size="7.7" text-anchor="end" font-weight="normal" font-style="normal">medium</text>
<text x="416.4" y="209.20000000000002" font-size="7.7" text-anchor="end" font-weight="normal" font-style="normal">IL-1β+IL-6</text>
<text x="359.6" y="192.9" font-size="7.7" text-anchor="middle" font-weight="normal" font-style="normal">FoxP3<tspan dy="-2.5" font-size="5.4">+</tspan><tspan dy="2.5" font-size="1">&#8203;</tspan></text>
<text x="359.6" y="202.4" font-size="7.7" text-anchor="middle" font-weight="normal" font-style="normal">IL-17<tspan dy="-2.5" font-size="5.4">+</tspan><tspan dy="2.5" font-size="1">&#8203;</tspan></text>
<line x1="376.90" y1="220.60" x2="376.90" y2="252.50" stroke="#000" stroke-width="1.1"/>
<text x="416.4" y="228.29999999999998" font-size="7.7" text-anchor="end" font-weight="normal" font-style="normal">medium</text>
<text x="416.4" y="250.4" font-size="7.7" text-anchor="end" font-weight="normal" font-style="normal">IL-1β+IL-6</text>
<text x="359.6" y="233.5" font-size="7.7" text-anchor="middle" font-weight="normal" font-style="normal">FoxP3<tspan dy="-2.5" font-size="5.4">+</tspan><tspan dy="2.5" font-size="1">&#8203;</tspan></text>
<text x="359.6" y="243.3" font-size="7.7" text-anchor="middle" font-weight="normal" font-style="normal">IL-17<tspan dy="-2.5" font-size="5.670000000000001">-</tspan><tspan dy="2.5" font-size="1">&#8203;</tspan></text>
<line x1="376.90" y1="265.00" x2="376.90" y2="293.80" stroke="#000" stroke-width="1.1"/>
<text x="416.4" y="272.0" font-size="7.7" text-anchor="end" font-weight="normal" font-style="normal">medium</text>
<text x="416.4" y="293.8" font-size="7.7" text-anchor="end" font-weight="normal" font-style="normal">IL-1β+IL-6</text>
<text x="359.6" y="284.40000000000003" font-size="7.7" text-anchor="middle" font-weight="normal" font-style="normal">FoxP3<tspan dy="-2.5" font-size="5.670000000000001">-</tspan><tspan dy="2.5" font-size="1">&#8203;</tspan></text>
</svg>
</body></html>
